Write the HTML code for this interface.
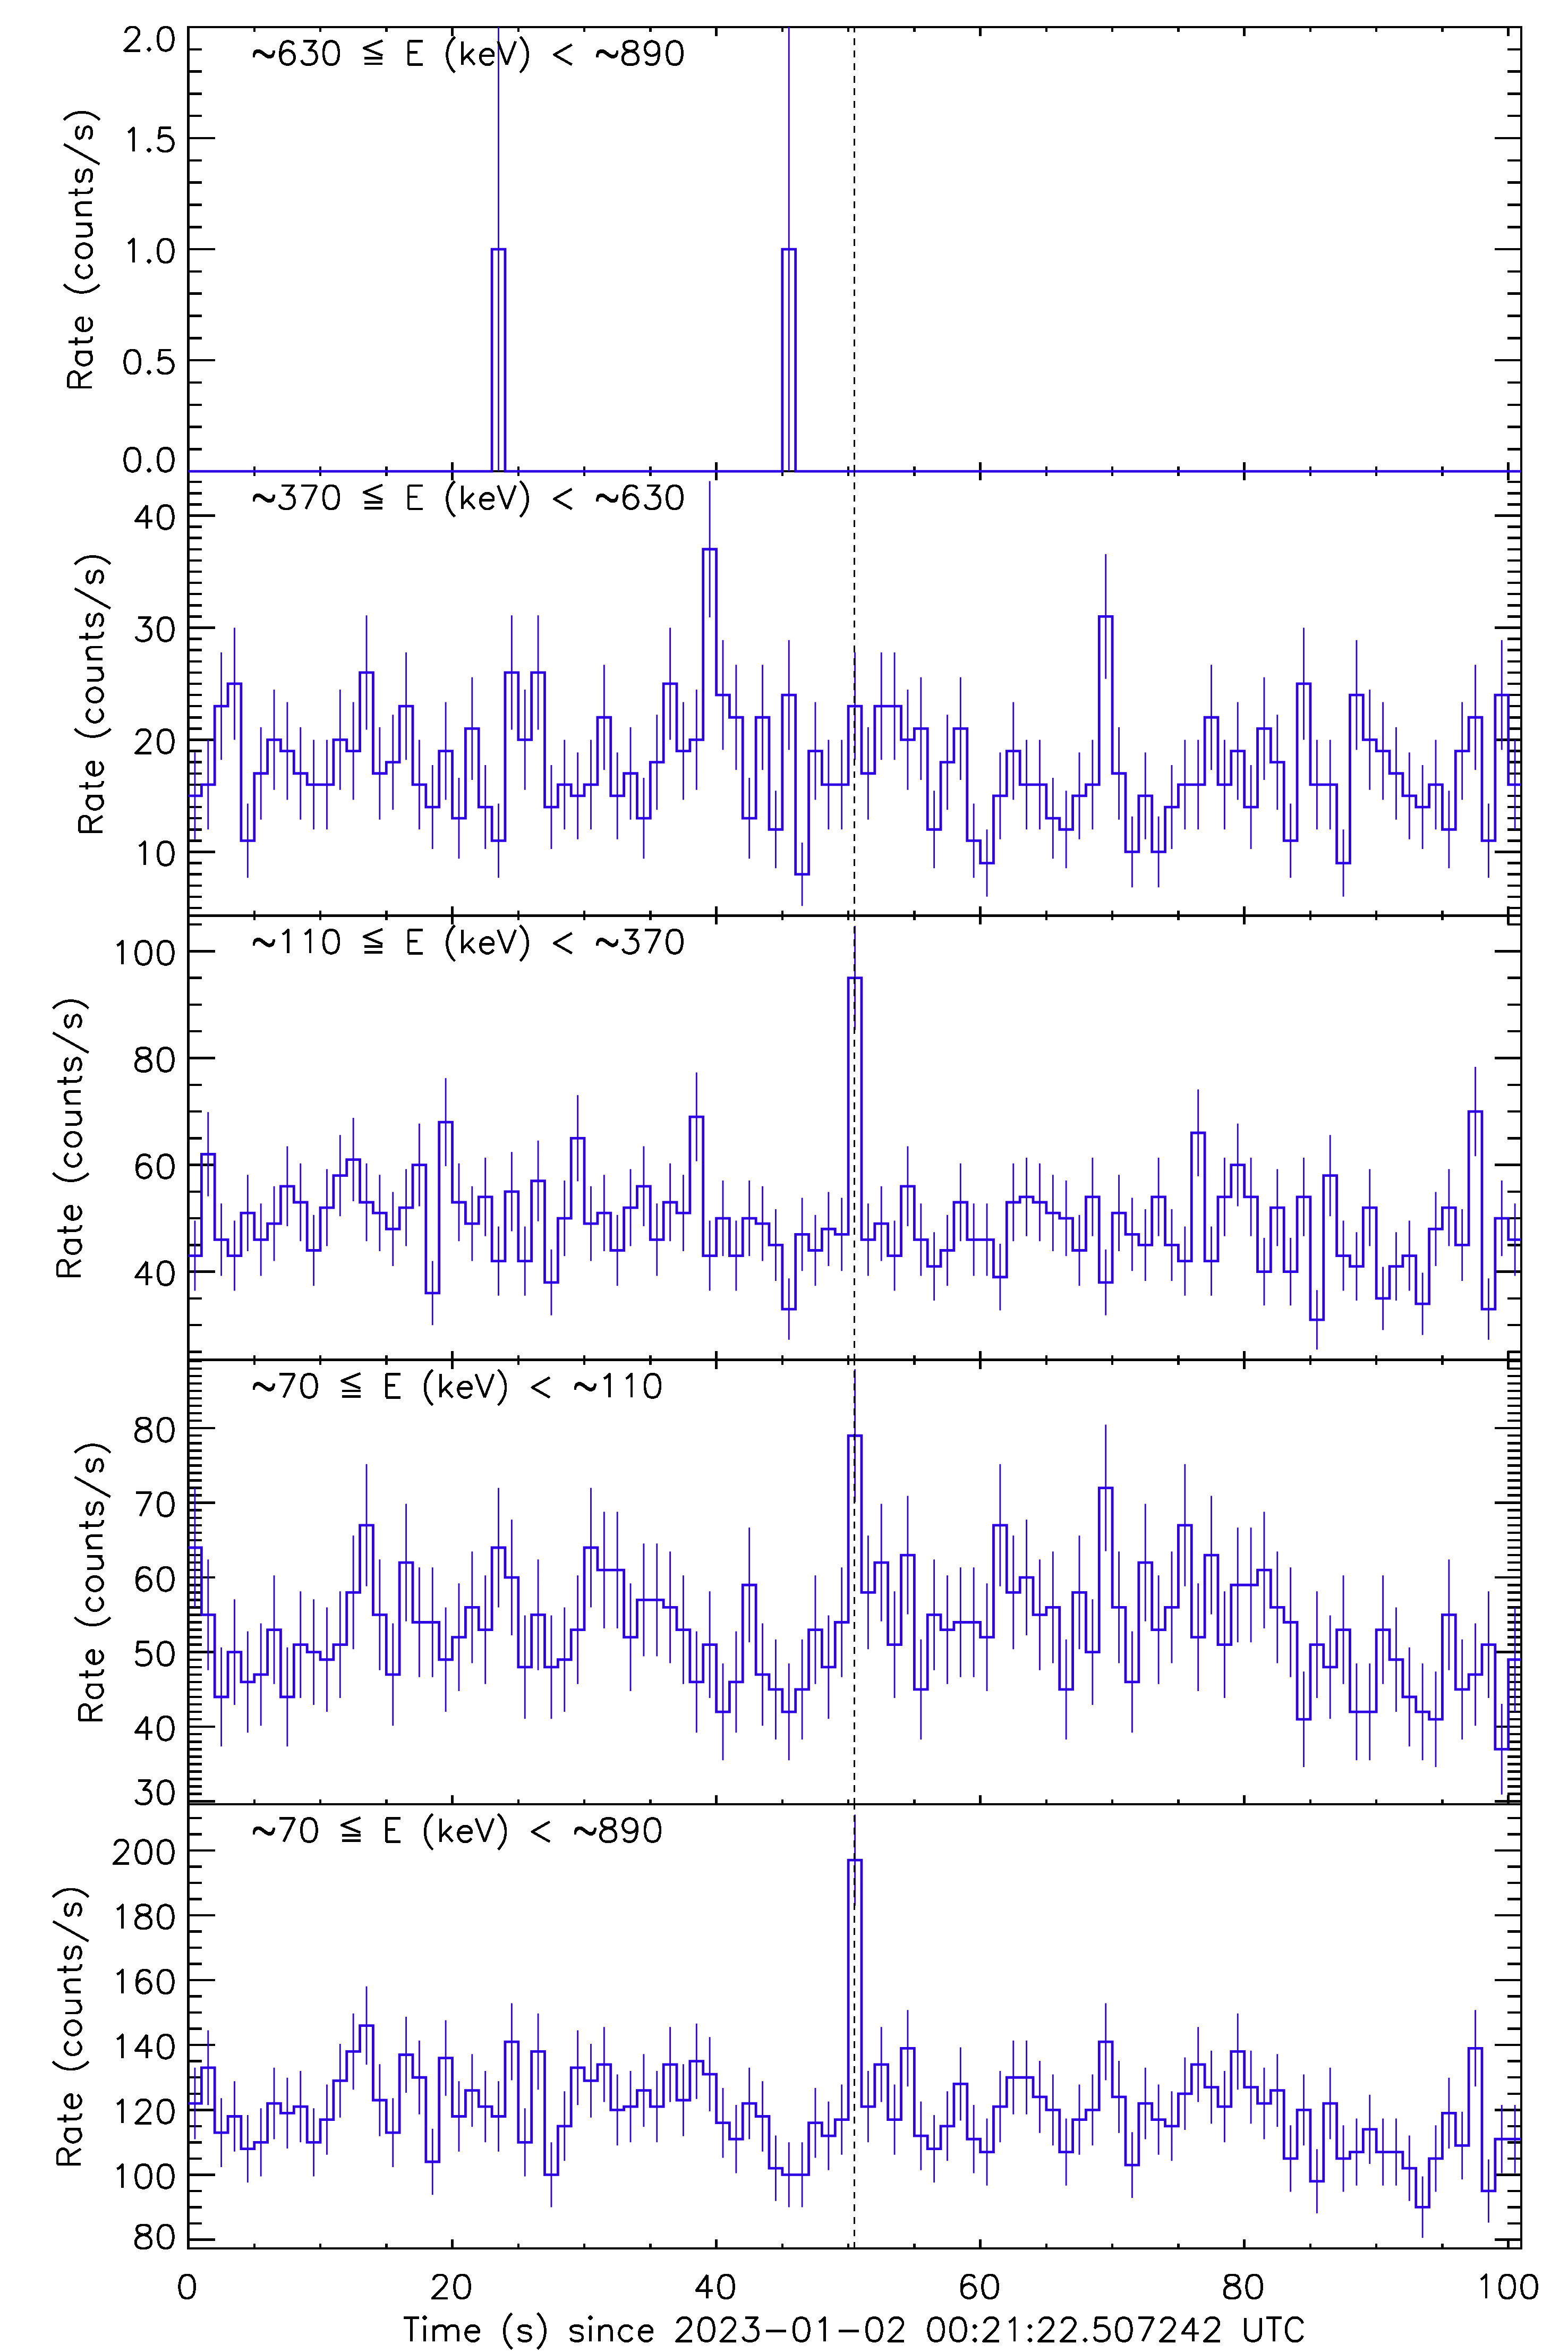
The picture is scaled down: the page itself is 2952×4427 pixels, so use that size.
<!DOCTYPE html>
<html><head><meta charset="utf-8"><title>Light curves</title>
<style>html,body{margin:0;padding:0;background:#fff;font-family:"Liberation Sans",sans-serif}svg{display:block}</style></head>
<body>
<svg width="2952" height="4427" viewBox="0 0 2952 4427">
<rect width="2952" height="4427" fill="#fff"/>
<g fill="#000"><rect x="352" y="3394" width="2514" height="4"/><rect x="352" y="4230" width="2514" height="4"/><rect x="352" y="3394" width="5" height="840"/><rect x="2862" y="3394" width="4" height="840"/><rect x="477" y="4223" width="4" height="9"/><rect x="601" y="4223" width="4" height="9"/><rect x="725" y="4223" width="5" height="9"/><rect x="849" y="4215" width="5" height="17"/><rect x="974" y="4223" width="4" height="9"/><rect x="1098" y="4223" width="4" height="9"/><rect x="1222" y="4223" width="5" height="9"/><rect x="1346" y="4215" width="5" height="17"/><rect x="1471" y="4223" width="4" height="9"/><rect x="1595" y="4223" width="4" height="9"/><rect x="1719" y="4223" width="5" height="9"/><rect x="1843" y="4215" width="5" height="17"/><rect x="1968" y="4223" width="4" height="9"/><rect x="2092" y="4223" width="4" height="9"/><rect x="2216" y="4223" width="5" height="9"/><rect x="2340" y="4215" width="5" height="17"/><rect x="2465" y="4223" width="4" height="9"/><rect x="2589" y="4223" width="4" height="9"/><rect x="2713" y="4223" width="5" height="9"/><rect x="2837" y="4215" width="5" height="17"/><rect x="354.5" y="4213" width="50.5" height="5"/><rect x="2814" y="4213" width="50" height="5"/><rect x="354.5" y="4183" width="25.5" height="4"/><rect x="2838" y="4183" width="26" height="4"/><rect x="354.5" y="4152" width="25.5" height="5"/><rect x="2838" y="4152" width="26" height="5"/><rect x="354.5" y="4122" width="25.5" height="4"/><rect x="2838" y="4122" width="26" height="4"/><rect x="354.5" y="4091" width="50.5" height="5"/><rect x="2814" y="4091" width="50" height="5"/><rect x="354.5" y="4061" width="25.5" height="4"/><rect x="2838" y="4061" width="26" height="4"/><rect x="354.5" y="4030" width="25.5" height="5"/><rect x="2838" y="4030" width="26" height="5"/><rect x="354.5" y="4000" width="25.5" height="4"/><rect x="2838" y="4000" width="26" height="4"/><rect x="354.5" y="3969" width="50.5" height="5"/><rect x="2814" y="3969" width="50" height="5"/><rect x="354.5" y="3939" width="25.5" height="4"/><rect x="2838" y="3939" width="26" height="4"/><rect x="354.5" y="3908" width="25.5" height="4"/><rect x="2838" y="3908" width="26" height="4"/><rect x="354.5" y="3877" width="25.5" height="5"/><rect x="2838" y="3877" width="26" height="5"/><rect x="354.5" y="3847" width="50.5" height="4"/><rect x="2814" y="3847" width="50" height="4"/><rect x="354.5" y="3816" width="25.5" height="5"/><rect x="2838" y="3816" width="26" height="5"/><rect x="354.5" y="3786" width="25.5" height="4"/><rect x="2838" y="3786" width="26" height="4"/><rect x="354.5" y="3755" width="25.5" height="5"/><rect x="2838" y="3755" width="26" height="5"/><rect x="354.5" y="3725" width="50.5" height="4"/><rect x="2814" y="3725" width="50" height="4"/><rect x="354.5" y="3694" width="25.5" height="5"/><rect x="2838" y="3694" width="26" height="5"/><rect x="354.5" y="3664" width="25.5" height="4"/><rect x="2838" y="3664" width="26" height="4"/><rect x="354.5" y="3633" width="25.5" height="5"/><rect x="2838" y="3633" width="26" height="5"/><rect x="354.5" y="3603" width="50.5" height="4"/><rect x="2814" y="3603" width="50" height="4"/><rect x="354.5" y="3572" width="25.5" height="5"/><rect x="2838" y="3572" width="26" height="5"/><rect x="354.5" y="3542" width="25.5" height="4"/><rect x="2838" y="3542" width="26" height="4"/><rect x="354.5" y="3511" width="25.5" height="5"/><rect x="2838" y="3511" width="26" height="5"/><rect x="354.5" y="3481" width="50.5" height="4"/><rect x="2814" y="3481" width="50" height="4"/><rect x="354.5" y="3450" width="25.5" height="5"/><rect x="2838" y="3450" width="26" height="5"/><rect x="354.5" y="3420" width="25.5" height="4"/><rect x="2838" y="3420" width="26" height="4"/></g>
<path d="M354.5 3959.09H379.35V3891.93H404.2V4014.03H429.06V3983.51H453.91V4044.56H478.76V4032.35H503.61V3959.09H528.46V3977.4H553.32V3965.2H578.17V4032.35H603.02V3989.61H627.87V3916.36H652.72V3861.41H677.58V3812.57H702.43V3952.99H727.28V4014.03H752.13V3867.51H776.98V3910.25H801.84V4068.98H826.69V3873.62H851.54V3983.51H876.39V3934.67H901.24V3965.2H926.1V3983.51H950.95V3843.09H975.8V4032.35H1000.65V3861.41H1025.5V4093.4H1050.36V4001.82H1075.21V3891.93H1100.06V3916.36H1124.91V3885.83H1149.76V3971.3H1174.62V3965.2H1199.47V3934.67H1224.32V3965.2H1249.17V3885.83H1274.02V3952.99H1298.88V3879.72H1323.73V3904.14H1348.58V3995.72H1373.43V4026.24H1398.28V3959.09H1423.14V3983.51H1447.99V4081.19H1472.84V4093.4H1497.69H1522.54V3995.72H1547.4V4020.14H1572.25V3989.61H1597.1V3501.22H1621.95V3965.2H1646.8V3885.83H1671.66V3989.61H1696.51V3855.3H1721.36V4020.14H1746.21V4044.56H1771.06V4001.82H1795.92V3922.46H1820.77V4026.24H1845.62V4050.66H1870.47V3965.2H1895.32V3910.25H1920.18H1945.03V3946.88H1969.88V3971.3H1994.73V4050.66H2019.58V3989.61H2044.44V3971.3H2069.29V3843.09H2094.14V3946.88H2118.99V4075.09H2143.84V3959.09H2168.7V3989.61H2193.55V4001.82H2218.4V3940.78H2243.25V3885.83H2268.1V3928.57H2292.96V3965.2H2317.81V3861.41H2342.66V3928.57H2367.51V3959.09H2392.36V3934.67H2417.22V4062.88H2442.07V3971.3H2466.92V4105.61H2491.77V3959.09H2516.62V4062.88H2541.48V4050.66H2566.33V4007.93H2591.18V4050.66H2616.03H2640.88V4081.19H2665.74V4154.45H2690.59V4062.88H2715.44V3977.4H2740.29V4038.45H2765.14V3855.3H2790V4123.93H2814.85V4026.24H2839.7H2864" stroke="#2d00e4" stroke-width="4.8" fill="none" stroke-linejoin="miter"/>
<path d="M366.93 3891.66V4026.52M391.78 3821.53V3962.34M416.63 3949.14V4078.93M441.48 3917.19V4049.83M466.33 3981.11V4108.01M491.19 3968.32V4096.38M516.04 3891.66V4026.52M540.89 3910.81V4044M565.74 3898.04V4032.35M590.59 3968.32V4096.38M615.45 3923.58V4055.65M640.3 3847.02V3985.69M665.15 3789.69V3933.13M690 3738.8V3886.34M714.85 3885.28V4020.69M739.71 3949.14V4078.93M764.56 3796.06V3938.97M789.41 3840.64V3979.86M814.26 4006.72V4131.24M839.11 3802.42V3944.82M863.97 3917.19V4049.83M888.82 3866.14V4003.2M913.67 3898.04V4032.35M938.52 3917.19V4049.83M963.37 3770.6V3915.59M988.23 3968.32V4096.38M1013.08 3789.69V3933.13M1037.93 4032.35V4154.45M1062.78 3936.36V4067.29M1087.63 3821.53V3962.34M1112.49 3847.02V3985.69M1137.34 3815.16V3956.5M1162.19 3904.42V4038.18M1187.04 3898.04V4032.35M1211.89 3866.14V4003.2M1236.75 3898.04V4032.35M1261.6 3815.16V3956.5M1286.45 3885.28V4020.69M1311.3 3808.79V3950.66M1336.15 3834.27V3974.02M1361.01 3929.97V4061.47M1385.86 3961.92V4090.57M1410.71 3891.66V4026.52M1435.56 3917.19V4049.83M1460.41 4019.53V4142.85M1485.27 4032.35V4154.45M1510.12 4032.35V4154.45M1534.97 3929.97V4061.47M1559.82 3955.53V4084.75M1584.67 3923.58V4055.65M1609.53 3415.53V3586.9M1634.38 3898.04V4032.35M1659.23 3815.16V3956.5M1684.08 3923.58V4055.65M1708.93 3783.33V3927.28M1733.79 3955.53V4084.75M1758.64 3981.11V4108.01M1783.49 3936.36V4067.29M1808.34 3853.39V3991.53M1833.19 3961.92V4090.57M1858.05 3987.51V4113.82M1882.9 3898.04V4032.35M1907.75 3840.64V3979.86M1932.6 3840.64V3979.86M1957.45 3878.9V4014.86M1982.31 3904.42V4038.18M2007.16 3987.51V4113.82M2032.01 3923.58V4055.65M2056.86 3904.42V4038.18M2081.71 3770.6V3915.59M2106.57 3878.9V4014.86M2131.42 4013.13V4137.04M2156.27 3891.66V4026.52M2181.12 3923.58V4055.65M2205.97 3936.36V4067.29M2230.83 3872.52V4009.03M2255.68 3815.16V3956.5M2280.53 3859.77V3997.36M2305.38 3898.04V4032.35M2330.23 3789.69V3933.13M2355.09 3859.77V3997.36M2379.94 3891.66V4026.52M2404.79 3866.14V4003.2M2429.64 4000.32V4125.43M2454.49 3904.42V4038.18M2479.35 4045.17V4166.05M2504.2 3891.66V4026.52M2529.05 4000.32V4125.43M2553.9 3987.51V4113.82M2578.75 3942.75V4073.11M2603.61 3987.51V4113.82M2628.46 3987.51V4113.82M2653.31 4019.53V4142.85M2678.16 4096.53V4212.37M2703.01 4000.32V4125.43M2727.87 3910.81V4044M2752.72 3974.72V4102.19M2777.57 3783.33V3927.28M2802.42 4064.42V4183.43M2827.27 3961.92V4090.57M2852.13 3961.92V4090.57" stroke="#2d00e4" stroke-width="2.8" fill="none"/>
<path d="M1608.5 3394V3406M1608.5 3417V3429M1608.5 3440V3453M1608.5 3464V3477M1608.5 3488V3500M1608.5 3511V3524M1608.5 3535V3548M1608.5 3558V3571M1608.5 3582V3595M1608.5 3606V3619M1608.5 3629V3642M1608.5 3653V3666M1608.5 3677V3689M1608.5 3700V3713M1608.5 3724V3737M1608.5 3748V3760M1608.5 3771V3784M1608.5 3795V3808M1608.5 3818V3831M1608.5 3842V3855M1608.5 3866V3879M1608.5 3889V3902M1608.5 3913V3926M1608.5 3937V3949M1608.5 3960V3973M1608.5 3984V3997M1608.5 4008V4020M1608.5 4031V4044M1608.5 4055V4068M1608.5 4078V4091M1608.5 4102V4115M1608.5 4126V4138M1608.5 4149V4162M1608.5 4173V4186M1608.5 4197V4209M1608.5 4220V4233" stroke="#000" stroke-width="3" fill="none"/>
<g fill="#000"><rect x="352" y="2557" width="2514" height="5"/><rect x="352" y="3394" width="2514" height="4"/><rect x="352" y="2557" width="5" height="841"/><rect x="2862" y="2557" width="4" height="841"/><rect x="477" y="3387" width="4" height="8.8"/><rect x="477" y="2559.6" width="4" height="9.4"/><rect x="601" y="3387" width="4" height="8.8"/><rect x="601" y="2559.6" width="4" height="9.4"/><rect x="725" y="3387" width="5" height="8.8"/><rect x="725" y="2559.6" width="5" height="9.4"/><rect x="849" y="3379" width="5" height="16.8"/><rect x="849" y="2559.6" width="5" height="17.4"/><rect x="974" y="3387" width="4" height="8.8"/><rect x="974" y="2559.6" width="4" height="9.4"/><rect x="1098" y="3387" width="4" height="8.8"/><rect x="1098" y="2559.6" width="4" height="9.4"/><rect x="1222" y="3387" width="5" height="8.8"/><rect x="1222" y="2559.6" width="5" height="9.4"/><rect x="1346" y="3379" width="5" height="16.8"/><rect x="1346" y="2559.6" width="5" height="17.4"/><rect x="1471" y="3387" width="4" height="8.8"/><rect x="1471" y="2559.6" width="4" height="9.4"/><rect x="1595" y="3387" width="4" height="8.8"/><rect x="1595" y="2559.6" width="4" height="9.4"/><rect x="1719" y="3387" width="5" height="8.8"/><rect x="1719" y="2559.6" width="5" height="9.4"/><rect x="1843" y="3379" width="5" height="16.8"/><rect x="1843" y="2559.6" width="5" height="17.4"/><rect x="1968" y="3387" width="4" height="8.8"/><rect x="1968" y="2559.6" width="4" height="9.4"/><rect x="2092" y="3387" width="4" height="8.8"/><rect x="2092" y="2559.6" width="4" height="9.4"/><rect x="2216" y="3387" width="5" height="8.8"/><rect x="2216" y="2559.6" width="5" height="9.4"/><rect x="2340" y="3379" width="5" height="16.8"/><rect x="2340" y="2559.6" width="5" height="17.4"/><rect x="2465" y="3387" width="4" height="8.8"/><rect x="2465" y="2559.6" width="4" height="9.4"/><rect x="2589" y="3387" width="4" height="8.8"/><rect x="2589" y="2559.6" width="4" height="9.4"/><rect x="2713" y="3387" width="5" height="8.8"/><rect x="2713" y="2559.6" width="5" height="9.4"/><rect x="2837" y="3379" width="5" height="16.8"/><rect x="2837" y="2559.6" width="5" height="17.4"/><rect x="354.5" y="3388" width="50.5" height="5"/><rect x="2814" y="3388" width="50" height="5"/><rect x="354.5" y="3374" width="25.5" height="5"/><rect x="2838" y="3374" width="26" height="5"/><rect x="354.5" y="3360" width="25.5" height="5"/><rect x="2838" y="3360" width="26" height="5"/><rect x="354.5" y="3346" width="25.5" height="5"/><rect x="2838" y="3346" width="26" height="5"/><rect x="354.5" y="3332" width="25.5" height="5"/><rect x="2838" y="3332" width="26" height="5"/><rect x="354.5" y="3318" width="25.5" height="5"/><rect x="2838" y="3318" width="26" height="5"/><rect x="354.5" y="3304" width="25.5" height="5"/><rect x="2838" y="3304" width="26" height="5"/><rect x="354.5" y="3290" width="25.5" height="5"/><rect x="2838" y="3290" width="26" height="5"/><rect x="354.5" y="3276" width="25.5" height="5"/><rect x="2838" y="3276" width="26" height="5"/><rect x="354.5" y="3262" width="25.5" height="4"/><rect x="2838" y="3262" width="26" height="4"/><rect x="354.5" y="3248" width="50.5" height="4"/><rect x="2814" y="3248" width="50" height="4"/><rect x="354.5" y="3234" width="25.5" height="4"/><rect x="2838" y="3234" width="26" height="4"/><rect x="354.5" y="3220" width="25.5" height="4"/><rect x="2838" y="3220" width="26" height="4"/><rect x="354.5" y="3206" width="25.5" height="4"/><rect x="2838" y="3206" width="26" height="4"/><rect x="354.5" y="3192" width="25.5" height="4"/><rect x="2838" y="3192" width="26" height="4"/><rect x="354.5" y="3178" width="25.5" height="4"/><rect x="2838" y="3178" width="26" height="4"/><rect x="354.5" y="3164" width="25.5" height="4"/><rect x="2838" y="3164" width="26" height="4"/><rect x="354.5" y="3150" width="25.5" height="4"/><rect x="2838" y="3150" width="26" height="4"/><rect x="354.5" y="3136" width="25.5" height="4"/><rect x="2838" y="3136" width="26" height="4"/><rect x="354.5" y="3122" width="25.5" height="4"/><rect x="2838" y="3122" width="26" height="4"/><rect x="354.5" y="3107" width="50.5" height="5"/><rect x="2814" y="3107" width="50" height="5"/><rect x="354.5" y="3093" width="25.5" height="5"/><rect x="2838" y="3093" width="26" height="5"/><rect x="354.5" y="3079" width="25.5" height="5"/><rect x="2838" y="3079" width="26" height="5"/><rect x="354.5" y="3065" width="25.5" height="5"/><rect x="2838" y="3065" width="26" height="5"/><rect x="354.5" y="3051" width="25.5" height="5"/><rect x="2838" y="3051" width="26" height="5"/><rect x="354.5" y="3037" width="25.5" height="5"/><rect x="2838" y="3037" width="26" height="5"/><rect x="354.5" y="3023" width="25.5" height="5"/><rect x="2838" y="3023" width="26" height="5"/><rect x="354.5" y="3009" width="25.5" height="5"/><rect x="2838" y="3009" width="26" height="5"/><rect x="354.5" y="2995" width="25.5" height="5"/><rect x="2838" y="2995" width="26" height="5"/><rect x="354.5" y="2981" width="25.5" height="5"/><rect x="2838" y="2981" width="26" height="5"/><rect x="354.5" y="2967" width="50.5" height="4"/><rect x="2814" y="2967" width="50" height="4"/><rect x="354.5" y="2953" width="25.5" height="4"/><rect x="2838" y="2953" width="26" height="4"/><rect x="354.5" y="2939" width="25.5" height="4"/><rect x="2838" y="2939" width="26" height="4"/><rect x="354.5" y="2925" width="25.5" height="4"/><rect x="2838" y="2925" width="26" height="4"/><rect x="354.5" y="2911" width="25.5" height="4"/><rect x="2838" y="2911" width="26" height="4"/><rect x="354.5" y="2897" width="25.5" height="4"/><rect x="2838" y="2897" width="26" height="4"/><rect x="354.5" y="2883" width="25.5" height="4"/><rect x="2838" y="2883" width="26" height="4"/><rect x="354.5" y="2869" width="25.5" height="4"/><rect x="2838" y="2869" width="26" height="4"/><rect x="354.5" y="2855" width="25.5" height="4"/><rect x="2838" y="2855" width="26" height="4"/><rect x="354.5" y="2840" width="25.5" height="5"/><rect x="2838" y="2840" width="26" height="5"/><rect x="354.5" y="2826" width="50.5" height="5"/><rect x="2814" y="2826" width="50" height="5"/><rect x="354.5" y="2812" width="25.5" height="5"/><rect x="2838" y="2812" width="26" height="5"/><rect x="354.5" y="2798" width="25.5" height="5"/><rect x="2838" y="2798" width="26" height="5"/><rect x="354.5" y="2784" width="25.5" height="5"/><rect x="2838" y="2784" width="26" height="5"/><rect x="354.5" y="2770" width="25.5" height="5"/><rect x="2838" y="2770" width="26" height="5"/><rect x="354.5" y="2756" width="25.5" height="5"/><rect x="2838" y="2756" width="26" height="5"/><rect x="354.5" y="2742" width="25.5" height="5"/><rect x="2838" y="2742" width="26" height="5"/><rect x="354.5" y="2728" width="25.5" height="5"/><rect x="2838" y="2728" width="26" height="5"/><rect x="354.5" y="2714" width="25.5" height="5"/><rect x="2838" y="2714" width="26" height="5"/><rect x="354.5" y="2700" width="25.5" height="4"/><rect x="2838" y="2700" width="26" height="4"/><rect x="354.5" y="2686" width="50.5" height="4"/><rect x="2814" y="2686" width="50" height="4"/><rect x="354.5" y="2672" width="25.5" height="4"/><rect x="2838" y="2672" width="26" height="4"/><rect x="354.5" y="2658" width="25.5" height="4"/><rect x="2838" y="2658" width="26" height="4"/><rect x="354.5" y="2644" width="25.5" height="4"/><rect x="2838" y="2644" width="26" height="4"/><rect x="354.5" y="2630" width="25.5" height="4"/><rect x="2838" y="2630" width="26" height="4"/><rect x="354.5" y="2616" width="25.5" height="4"/><rect x="2838" y="2616" width="26" height="4"/><rect x="354.5" y="2602" width="25.5" height="4"/><rect x="2838" y="2602" width="26" height="4"/><rect x="354.5" y="2588" width="25.5" height="4"/><rect x="2838" y="2588" width="26" height="4"/><rect x="354.5" y="2574" width="25.5" height="4"/><rect x="2838" y="2574" width="26" height="4"/><rect x="354.5" y="2560" width="25.5" height="4"/><rect x="2838" y="2560" width="26" height="4"/></g>
<path d="M354.5 2913H379.35V3039.45H404.2V3194H429.06V3109.7H453.91V3165.9H478.76V3151.85H503.61V3067.55H528.46V3194H553.32V3095.65H578.17V3109.7H603.02V3123.75H627.87V3095.65H652.72V2997.3H677.58V2870.85H702.43V3039.45H727.28V3151.85H752.13V2941.1H776.98V3053.5H801.84H826.69V3123.75H851.54V3081.6H876.39V3025.4H901.24V3067.55H926.1V2913H950.95V2969.2H975.8V3137.8H1000.65V3039.45H1025.5V3137.8H1050.36V3123.75H1075.21V3067.55H1100.06V2913H1124.91V2955.15H1149.76H1174.62V3081.6H1199.47V3011.35H1224.32H1249.17V3025.4H1274.02V3067.55H1298.88V3165.9H1323.73V3095.65H1348.58V3222.1H1373.43V3165.9H1398.28V2983.25H1423.14V3151.85H1447.99V3179.95H1472.84V3222.1H1497.69V3179.95H1522.54V3067.55H1547.4V3137.8H1572.25V3053.5H1597.1V2702.25H1621.95V2997.3H1646.8V2941.1H1671.66V3095.65H1696.51V2927.05H1721.36V3179.95H1746.21V3039.45H1771.06V3067.55H1795.92V3053.5H1820.77H1845.62V3081.6H1870.47V2870.85H1895.32V2997.3H1920.18V2969.2H1945.03V3039.45H1969.88V3025.4H1994.73V3179.95H2019.58V2997.3H2044.44V3109.7H2069.29V2800.6H2094.14V3025.4H2118.99V3165.9H2143.84V2941.1H2168.7V3067.55H2193.55V3025.4H2218.4V2870.85H2243.25V3081.6H2268.1V2927.05H2292.96V3095.65H2317.81V2983.25H2342.66H2367.51V2955.15H2392.36V3025.4H2417.22V3053.5H2442.07V3236.15H2466.92V3095.65H2491.77V3137.8H2516.62V3067.55H2541.48V3222.1H2566.33H2591.18V3067.55H2616.03V3123.75H2640.88V3194H2665.74V3222.1H2690.59V3236.15H2715.44V3039.45H2740.29V3179.95H2765.14V3151.85H2790V3095.65H2814.85V3292.35H2839.7V3123.75H2864" stroke="#2d00e4" stroke-width="4.8" fill="none" stroke-linejoin="miter"/>
<path d="M366.93 2800.6V3025.4M391.78 2935.25V3143.65M416.63 3100.8V3287.2M441.48 3010.35V3209.05M466.33 3070.61V3261.19M491.19 3055.53V3248.17M516.04 2965.26V3169.84M540.89 3100.8V3287.2M565.74 2995.31V3195.99M590.59 3010.35V3209.05M615.45 3025.4V3222.1M640.3 2995.31V3195.99M665.15 2890.3V3104.3M690 2755.85V2985.85M714.85 2935.25V3143.65M739.71 3055.53V3248.17M764.56 2830.47V3051.73M789.41 2950.25V3156.75M814.26 2950.25V3156.75M839.11 3025.4V3222.1M863.97 2980.28V3182.92M888.82 2920.26V3130.54M913.67 2965.26V3169.84M938.52 2800.6V3025.4M963.37 2860.37V3078.03M988.23 3040.46V3235.14M1013.08 2935.25V3143.65M1037.93 3040.46V3235.14M1062.78 3025.4V3222.1M1087.63 2965.26V3169.84M1112.49 2800.6V3025.4M1137.34 2845.42V3064.88M1162.19 2845.42V3064.88M1187.04 2980.28V3182.92M1211.89 2905.27V3117.43M1236.75 2905.27V3117.43M1261.6 2920.26V3130.54M1286.45 2965.26V3169.84M1311.3 3070.61V3261.19M1336.15 2995.31V3195.99M1361.01 3131.05V3313.15M1385.86 3070.61V3261.19M1410.71 2875.33V3091.17M1435.56 3055.53V3248.17M1460.41 3085.7V3274.2M1485.27 3131.05V3313.15M1510.12 3085.7V3274.2M1534.97 2965.26V3169.84M1559.82 3040.46V3235.14M1584.67 2950.25V3156.75M1609.53 2577.37V2827.13M1634.38 2890.3V3104.3M1659.23 2830.47V3051.73M1684.08 2995.31V3195.99M1708.93 2815.53V3038.57M1733.79 3085.7V3274.2M1758.64 2935.25V3143.65M1783.49 2965.26V3169.84M1808.34 2950.25V3156.75M1833.19 2950.25V3156.75M1858.05 2980.28V3182.92M1882.9 2755.85V2985.85M1907.75 2890.3V3104.3M1932.6 2860.37V3078.03M1957.45 2935.25V3143.65M1982.31 2920.26V3130.54M2007.16 3085.7V3274.2M2032.01 2890.3V3104.3M2056.86 3010.35V3209.05M2081.71 2681.38V2919.82M2106.57 2920.26V3130.54M2131.42 3070.61V3261.19M2156.27 2830.47V3051.73M2181.12 2965.26V3169.84M2205.97 2920.26V3130.54M2230.83 2755.85V2985.85M2255.68 2980.28V3182.92M2280.53 2815.53V3038.57M2305.38 2995.31V3195.99M2330.23 2875.33V3091.17M2355.09 2875.33V3091.17M2379.94 2845.42V3064.88M2404.79 2920.26V3130.54M2429.64 2950.25V3156.75M2454.49 3146.19V3326.11M2479.35 2995.31V3195.99M2504.2 3040.46V3235.14M2529.05 2965.26V3169.84M2553.9 3131.05V3313.15M2578.75 3131.05V3313.15M2603.61 2965.26V3169.84M2628.46 3025.4V3222.1M2653.31 3100.8V3287.2M2678.16 3131.05V3313.15M2703.01 3146.19V3326.11M2727.87 2935.25V3143.65M2752.72 3085.7V3274.2M2777.57 3055.53V3248.17M2802.42 2995.31V3195.99M2827.27 3206.89V3377.81M2852.13 3025.4V3222.1" stroke="#2d00e4" stroke-width="2.8" fill="none"/>
<path d="M1608.5 2558V2570M1608.5 2580V2593M1608.5 2604V2617M1608.5 2628V2641M1608.5 2651V2664M1608.5 2675V2688M1608.5 2699V2711M1608.5 2722V2735M1608.5 2746V2759M1608.5 2770V2782M1608.5 2793V2806M1608.5 2817V2830M1608.5 2840V2853M1608.5 2864V2877M1608.5 2888V2900M1608.5 2911V2924M1608.5 2935V2948M1608.5 2959V2971M1608.5 2982V2995M1608.5 3006V3019M1608.5 3030V3042M1608.5 3053V3066M1608.5 3077V3090M1608.5 3100V3113M1608.5 3124V3137M1608.5 3148V3160M1608.5 3171V3184M1608.5 3195V3208M1608.5 3219V3231M1608.5 3242V3255M1608.5 3266V3279M1608.5 3289V3302M1608.5 3313V3326M1608.5 3337V3350M1608.5 3360V3373M1608.5 3384V3397" stroke="#000" stroke-width="3" fill="none"/>
<g fill="#000"><rect x="352" y="1721" width="2514" height="5"/><rect x="352" y="2557" width="2514" height="5"/><rect x="352" y="1721" width="5" height="841"/><rect x="2862" y="1721" width="4" height="841"/><rect x="477" y="2551" width="4" height="8.6"/><rect x="477" y="1723.4" width="4" height="8.6"/><rect x="601" y="2551" width="4" height="8.6"/><rect x="601" y="1723.4" width="4" height="8.6"/><rect x="725" y="2551" width="5" height="8.6"/><rect x="725" y="1723.4" width="5" height="8.6"/><rect x="849" y="2543" width="5" height="16.6"/><rect x="849" y="1723.4" width="5" height="16.6"/><rect x="974" y="2551" width="4" height="8.6"/><rect x="974" y="1723.4" width="4" height="8.6"/><rect x="1098" y="2551" width="4" height="8.6"/><rect x="1098" y="1723.4" width="4" height="8.6"/><rect x="1222" y="2551" width="5" height="8.6"/><rect x="1222" y="1723.4" width="5" height="8.6"/><rect x="1346" y="2543" width="5" height="16.6"/><rect x="1346" y="1723.4" width="5" height="16.6"/><rect x="1471" y="2551" width="4" height="8.6"/><rect x="1471" y="1723.4" width="4" height="8.6"/><rect x="1595" y="2551" width="4" height="8.6"/><rect x="1595" y="1723.4" width="4" height="8.6"/><rect x="1719" y="2551" width="5" height="8.6"/><rect x="1719" y="1723.4" width="5" height="8.6"/><rect x="1843" y="2543" width="5" height="16.6"/><rect x="1843" y="1723.4" width="5" height="16.6"/><rect x="1968" y="2551" width="4" height="8.6"/><rect x="1968" y="1723.4" width="4" height="8.6"/><rect x="2092" y="2551" width="4" height="8.6"/><rect x="2092" y="1723.4" width="4" height="8.6"/><rect x="2216" y="2551" width="5" height="8.6"/><rect x="2216" y="1723.4" width="5" height="8.6"/><rect x="2340" y="2543" width="5" height="16.6"/><rect x="2340" y="1723.4" width="5" height="16.6"/><rect x="2465" y="2551" width="4" height="8.6"/><rect x="2465" y="1723.4" width="4" height="8.6"/><rect x="2589" y="2551" width="4" height="8.6"/><rect x="2589" y="1723.4" width="4" height="8.6"/><rect x="2713" y="2551" width="5" height="8.6"/><rect x="2713" y="1723.4" width="5" height="8.6"/><rect x="2837" y="2543" width="5" height="16.6"/><rect x="2837" y="1723.4" width="5" height="16.6"/><rect x="354.5" y="2542" width="25.5" height="5"/><rect x="2838" y="2542" width="26" height="5"/><rect x="354.5" y="2492" width="25.5" height="4"/><rect x="2838" y="2492" width="26" height="4"/><rect x="354.5" y="2442" width="25.5" height="4"/><rect x="2838" y="2442" width="26" height="4"/><rect x="354.5" y="2391" width="50.5" height="5"/><rect x="2814" y="2391" width="50" height="5"/><rect x="354.5" y="2341" width="25.5" height="5"/><rect x="2838" y="2341" width="26" height="5"/><rect x="354.5" y="2291" width="25.5" height="4"/><rect x="2838" y="2291" width="26" height="4"/><rect x="354.5" y="2241" width="25.5" height="4"/><rect x="2838" y="2241" width="26" height="4"/><rect x="354.5" y="2190" width="50.5" height="5"/><rect x="2814" y="2190" width="50" height="5"/><rect x="354.5" y="2140" width="25.5" height="5"/><rect x="2838" y="2140" width="26" height="5"/><rect x="354.5" y="2090" width="25.5" height="4"/><rect x="2838" y="2090" width="26" height="4"/><rect x="354.5" y="2040" width="25.5" height="4"/><rect x="2838" y="2040" width="26" height="4"/><rect x="354.5" y="1989" width="50.5" height="5"/><rect x="2814" y="1989" width="50" height="5"/><rect x="354.5" y="1939" width="25.5" height="4"/><rect x="2838" y="1939" width="26" height="4"/><rect x="354.5" y="1889" width="25.5" height="4"/><rect x="2838" y="1889" width="26" height="4"/><rect x="354.5" y="1838" width="25.5" height="5"/><rect x="2838" y="1838" width="26" height="5"/><rect x="354.5" y="1788" width="50.5" height="5"/><rect x="2814" y="1788" width="50" height="5"/><rect x="354.5" y="1738" width="25.5" height="4"/><rect x="2838" y="1738" width="26" height="4"/></g>
<path d="M354.5 2363.53H379.35V2172.49H404.2V2333.37H429.06V2363.53H453.91V2283.1H478.76V2333.37H503.61V2303.2H528.46V2232.82H553.32V2262.99H578.17V2353.48H603.02V2273.04H627.87V2212.71H652.72V2182.55H677.58V2262.99H702.43V2283.1H727.28V2313.26H752.13V2273.04H776.98V2192.6H801.84V2433.92H826.69V2112.16H851.54V2262.99H876.39V2303.2H901.24V2252.93H926.1V2373.59H950.95V2242.88H975.8V2373.59H1000.65V2222.77H1025.5V2413.81H1050.36V2293.15H1075.21V2142.33H1100.06V2303.2H1124.91V2283.1H1149.76V2353.48H1174.62V2273.04H1199.47V2232.82H1224.32V2333.37H1249.17V2262.99H1274.02V2283.1H1298.88V2102.11H1323.73V2363.53H1348.58V2293.15H1373.43V2363.53H1398.28V2293.15H1423.14V2303.2H1447.99V2343.43H1472.84V2464.09H1497.69V2323.32H1522.54V2353.48H1547.4V2313.26H1572.25V2323.32H1597.1V1840.68H1621.95V2333.37H1646.8V2303.2H1671.66V2363.53H1696.51V2232.82H1721.36V2333.37H1746.21V2383.64H1771.06V2353.48H1795.92V2262.99H1820.77V2333.37H1845.62H1870.47V2403.76H1895.32V2262.99H1920.18V2252.93H1945.03V2262.99H1969.88V2283.1H1994.73V2293.15H2019.58V2353.48H2044.44V2252.93H2069.29V2413.81H2094.14V2283.1H2118.99V2323.32H2143.84V2343.43H2168.7V2252.93H2193.55V2343.43H2218.4V2373.59H2243.25V2132.27H2268.1V2373.59H2292.96V2252.93H2317.81V2192.6H2342.66V2252.93H2367.51V2393.7H2392.36V2273.04H2417.22V2393.7H2442.07V2252.93H2466.92V2484.2H2491.77V2212.71H2516.62V2363.53H2541.48V2383.64H2566.33V2273.04H2591.18V2443.97H2616.03V2383.64H2640.88V2363.53H2665.74V2454.03H2690.59V2313.26H2715.44V2273.04H2740.29V2343.43H2765.14V2092.05H2790V2464.09H2814.85V2293.15H2839.7V2333.37H2864" stroke="#2d00e4" stroke-width="4.8" fill="none" stroke-linejoin="miter"/>
<path d="M366.93 2297.6V2429.47M391.78 2093.32V2251.66M416.63 2265.17V2401.57M441.48 2297.6V2429.47M466.33 2211.29V2354.9M491.19 2265.17V2401.57M516.04 2232.82V2373.59M540.89 2157.58V2308.06M565.74 2189.78V2336.19M590.59 2286.78V2420.18M615.45 2200.53V2345.55M640.3 2136.13V2289.29M665.15 2104.01V2261.08M690 2189.78V2336.19M714.85 2211.29V2354.9M739.71 2243.6V2382.92M764.56 2200.53V2345.55M789.41 2114.71V2270.49M814.26 2373.59V2494.25M839.11 2029.24V2195.08M863.97 2189.78V2336.19M888.82 2232.82V2373.59M913.67 2179.04V2326.82M938.52 2308.43V2438.75M963.37 2168.31V2317.44M988.23 2308.43V2438.75M1013.08 2146.85V2298.68M1037.93 2351.83V2475.79M1062.78 2222.05V2364.25M1087.63 2061.26V2223.39M1112.49 2232.82V2373.59M1137.34 2211.29V2354.9M1162.19 2286.78V2420.18M1187.04 2200.53V2345.55M1211.89 2157.58V2308.06M1236.75 2265.17V2401.57M1261.6 2189.78V2336.19M1286.45 2211.29V2354.9M1311.3 2018.58V2185.63M1336.15 2297.6V2429.47M1361.01 2222.05V2364.25M1385.86 2297.6V2429.47M1410.71 2222.05V2364.25M1435.56 2232.82V2373.59M1460.41 2275.97V2410.88M1485.27 2406.32V2521.85M1510.12 2254.38V2392.25M1534.97 2286.78V2420.18M1559.82 2243.6V2382.92M1584.67 2254.38V2392.25M1609.53 1742.67V1938.68M1634.38 2265.17V2401.57M1659.23 2232.82V2373.59M1684.08 2297.6V2429.47M1708.93 2157.58V2308.06M1733.79 2265.17V2401.57M1758.64 2319.26V2448.03M1783.49 2286.78V2420.18M1808.34 2189.78V2336.19M1833.19 2265.17V2401.57M1858.05 2265.17V2401.57M1882.9 2340.96V2466.55M1907.75 2189.78V2336.19M1932.6 2179.04V2326.82M1957.45 2189.78V2336.19M1982.31 2211.29V2354.9M2007.16 2222.05V2364.25M2032.01 2286.78V2420.18M2056.86 2179.04V2326.82M2081.71 2351.83V2475.79M2106.57 2211.29V2354.9M2131.42 2254.38V2392.25M2156.27 2275.97V2410.88M2181.12 2179.04V2326.82M2205.97 2275.97V2410.88M2230.83 2308.43V2438.75M2255.68 2050.58V2213.96M2280.53 2308.43V2438.75M2305.38 2179.04V2326.82M2330.23 2114.71V2270.49M2355.09 2179.04V2326.82M2379.94 2330.11V2457.29M2404.79 2200.53V2345.55M2429.64 2330.11V2457.29M2454.49 2179.04V2326.82M2479.35 2428.21V2540.18M2504.2 2136.13V2289.29M2529.05 2297.6V2429.47M2553.9 2319.26V2448.03M2578.75 2200.53V2345.55M2603.61 2384.49V2503.46M2628.46 2319.26V2448.03M2653.31 2297.6V2429.47M2678.16 2395.4V2512.66M2703.01 2243.6V2382.92M2727.87 2200.53V2345.55M2752.72 2275.97V2410.88M2777.57 2007.92V2176.18M2802.42 2406.32V2521.85M2827.27 2222.05V2364.25M2852.13 2265.17V2401.57" stroke="#2d00e4" stroke-width="2.8" fill="none"/>
<path d="M1608.5 1721V1733M1608.5 1744V1757M1608.5 1768V1781M1608.5 1792V1804M1608.5 1815V1828M1608.5 1839V1852M1608.5 1862V1875M1608.5 1886V1899M1608.5 1910V1922M1608.5 1933V1946M1608.5 1957V1970M1608.5 1981V1993M1608.5 2004V2017M1608.5 2028V2041M1608.5 2051V2064M1608.5 2075V2088M1608.5 2099V2112M1608.5 2122V2135M1608.5 2146V2159M1608.5 2170V2182M1608.5 2193V2206M1608.5 2217V2230M1608.5 2241V2253M1608.5 2264V2277M1608.5 2288V2301M1608.5 2311V2324M1608.5 2335V2348M1608.5 2359V2372M1608.5 2382V2395M1608.5 2406V2419M1608.5 2430V2442M1608.5 2453V2466M1608.5 2477V2490M1608.5 2501V2513M1608.5 2524V2537M1608.5 2548V2561" stroke="#000" stroke-width="3" fill="none"/>
<g fill="#000"><rect x="352" y="885" width="2514" height="4"/><rect x="352" y="1721" width="2514" height="5"/><rect x="352" y="885" width="5" height="841"/><rect x="2862" y="885" width="4" height="841"/><rect x="477" y="1714" width="4" height="9.4"/><rect x="477" y="887.2" width="4" height="8.8"/><rect x="601" y="1714" width="4" height="9.4"/><rect x="601" y="887.2" width="4" height="8.8"/><rect x="725" y="1714" width="5" height="9.4"/><rect x="725" y="887.2" width="5" height="8.8"/><rect x="849" y="1706" width="5" height="17.4"/><rect x="849" y="887.2" width="5" height="16.8"/><rect x="974" y="1714" width="4" height="9.4"/><rect x="974" y="887.2" width="4" height="8.8"/><rect x="1098" y="1714" width="4" height="9.4"/><rect x="1098" y="887.2" width="4" height="8.8"/><rect x="1222" y="1714" width="5" height="9.4"/><rect x="1222" y="887.2" width="5" height="8.8"/><rect x="1346" y="1706" width="5" height="17.4"/><rect x="1346" y="887.2" width="5" height="16.8"/><rect x="1471" y="1714" width="4" height="9.4"/><rect x="1471" y="887.2" width="4" height="8.8"/><rect x="1595" y="1714" width="4" height="9.4"/><rect x="1595" y="887.2" width="4" height="8.8"/><rect x="1719" y="1714" width="5" height="9.4"/><rect x="1719" y="887.2" width="5" height="8.8"/><rect x="1843" y="1706" width="5" height="17.4"/><rect x="1843" y="887.2" width="5" height="16.8"/><rect x="1968" y="1714" width="4" height="9.4"/><rect x="1968" y="887.2" width="4" height="8.8"/><rect x="2092" y="1714" width="4" height="9.4"/><rect x="2092" y="887.2" width="4" height="8.8"/><rect x="2216" y="1714" width="5" height="9.4"/><rect x="2216" y="887.2" width="5" height="8.8"/><rect x="2340" y="1706" width="5" height="17.4"/><rect x="2340" y="887.2" width="5" height="16.8"/><rect x="2465" y="1714" width="4" height="9.4"/><rect x="2465" y="887.2" width="4" height="8.8"/><rect x="2589" y="1714" width="4" height="9.4"/><rect x="2589" y="887.2" width="4" height="8.8"/><rect x="2713" y="1714" width="5" height="9.4"/><rect x="2713" y="887.2" width="5" height="8.8"/><rect x="2837" y="1706" width="5" height="17.4"/><rect x="2837" y="887.2" width="5" height="16.8"/><rect x="354.5" y="1707" width="25.5" height="4"/><rect x="2838" y="1707" width="26" height="4"/><rect x="354.5" y="1686" width="25.5" height="4"/><rect x="2838" y="1686" width="26" height="4"/><rect x="354.5" y="1665" width="25.5" height="4"/><rect x="2838" y="1665" width="26" height="4"/><rect x="354.5" y="1643" width="25.5" height="5"/><rect x="2838" y="1643" width="26" height="5"/><rect x="354.5" y="1622" width="25.5" height="5"/><rect x="2838" y="1622" width="26" height="5"/><rect x="354.5" y="1601" width="50.5" height="5"/><rect x="2814" y="1601" width="50" height="5"/><rect x="354.5" y="1580" width="25.5" height="5"/><rect x="2838" y="1580" width="26" height="5"/><rect x="354.5" y="1559" width="25.5" height="5"/><rect x="2838" y="1559" width="26" height="5"/><rect x="354.5" y="1538" width="25.5" height="4"/><rect x="2838" y="1538" width="26" height="4"/><rect x="354.5" y="1517" width="25.5" height="4"/><rect x="2838" y="1517" width="26" height="4"/><rect x="354.5" y="1496" width="25.5" height="4"/><rect x="2838" y="1496" width="26" height="4"/><rect x="354.5" y="1475" width="25.5" height="4"/><rect x="2838" y="1475" width="26" height="4"/><rect x="354.5" y="1454" width="25.5" height="4"/><rect x="2838" y="1454" width="26" height="4"/><rect x="354.5" y="1432" width="25.5" height="5"/><rect x="2838" y="1432" width="26" height="5"/><rect x="354.5" y="1411" width="25.5" height="5"/><rect x="2838" y="1411" width="26" height="5"/><rect x="354.5" y="1390" width="50.5" height="5"/><rect x="2814" y="1390" width="50" height="5"/><rect x="354.5" y="1369" width="25.5" height="5"/><rect x="2838" y="1369" width="26" height="5"/><rect x="354.5" y="1348" width="25.5" height="5"/><rect x="2838" y="1348" width="26" height="5"/><rect x="354.5" y="1327" width="25.5" height="4"/><rect x="2838" y="1327" width="26" height="4"/><rect x="354.5" y="1306" width="25.5" height="4"/><rect x="2838" y="1306" width="26" height="4"/><rect x="354.5" y="1285" width="25.5" height="4"/><rect x="2838" y="1285" width="26" height="4"/><rect x="354.5" y="1264" width="25.5" height="4"/><rect x="2838" y="1264" width="26" height="4"/><rect x="354.5" y="1243" width="25.5" height="4"/><rect x="2838" y="1243" width="26" height="4"/><rect x="354.5" y="1221" width="25.5" height="5"/><rect x="2838" y="1221" width="26" height="5"/><rect x="354.5" y="1200" width="25.5" height="5"/><rect x="2838" y="1200" width="26" height="5"/><rect x="354.5" y="1179" width="50.5" height="5"/><rect x="2814" y="1179" width="50" height="5"/><rect x="354.5" y="1158" width="25.5" height="5"/><rect x="2838" y="1158" width="26" height="5"/><rect x="354.5" y="1137" width="25.5" height="5"/><rect x="2838" y="1137" width="26" height="5"/><rect x="354.5" y="1116" width="25.5" height="4"/><rect x="2838" y="1116" width="26" height="4"/><rect x="354.5" y="1095" width="25.5" height="4"/><rect x="2838" y="1095" width="26" height="4"/><rect x="354.5" y="1074" width="25.5" height="4"/><rect x="2838" y="1074" width="26" height="4"/><rect x="354.5" y="1053" width="25.5" height="4"/><rect x="2838" y="1053" width="26" height="4"/><rect x="354.5" y="1032" width="25.5" height="4"/><rect x="2838" y="1032" width="26" height="4"/><rect x="354.5" y="1010" width="25.5" height="5"/><rect x="2838" y="1010" width="26" height="5"/><rect x="354.5" y="989" width="25.5" height="5"/><rect x="2838" y="989" width="26" height="5"/><rect x="354.5" y="968" width="50.5" height="5"/><rect x="2814" y="968" width="50" height="5"/><rect x="354.5" y="947" width="25.5" height="5"/><rect x="2838" y="947" width="26" height="5"/><rect x="354.5" y="926" width="25.5" height="5"/><rect x="2838" y="926" width="26" height="5"/><rect x="354.5" y="905" width="25.5" height="4"/><rect x="2838" y="905" width="26" height="4"/></g>
<path d="M354.5 1497.97H379.35V1476.87H404.2V1329.17H429.06V1286.97H453.91V1582.37H478.76V1455.77H503.61V1392.47H528.46V1413.57H553.32V1455.77H578.17V1476.87H603.02H627.87V1392.47H652.72V1413.57H677.58V1265.87H702.43V1455.77H727.28V1434.67H752.13V1329.17H776.98V1476.87H801.84V1519.07H826.69V1413.57H851.54V1540.17H876.39V1371.37H901.24V1519.07H926.1V1582.37H950.95V1265.87H975.8V1392.47H1000.65V1265.87H1025.5V1519.07H1050.36V1476.87H1075.21V1497.97H1100.06V1476.87H1124.91V1350.27H1149.76V1497.97H1174.62V1455.77H1199.47V1540.17H1224.32V1434.67H1249.17V1286.97H1274.02V1413.57H1298.88V1392.47H1323.73V1033.77H1348.58V1308.07H1373.43V1350.27H1398.28V1540.17H1423.14V1350.27H1447.99V1561.27H1472.84V1308.07H1497.69V1645.67H1522.54V1413.57H1547.4V1476.87H1572.25H1597.1V1329.17H1621.95V1455.77H1646.8V1329.17H1671.66H1696.51V1392.47H1721.36V1371.37H1746.21V1561.27H1771.06V1434.67H1795.92V1371.37H1820.77V1582.37H1845.62V1624.57H1870.47V1497.97H1895.32V1413.57H1920.18V1476.87H1945.03H1969.88V1540.17H1994.73V1561.27H2019.58V1497.97H2044.44V1476.87H2069.29V1160.37H2094.14V1455.77H2118.99V1603.47H2143.84V1497.97H2168.7V1603.47H2193.55V1519.07H2218.4V1476.87H2243.25H2268.1V1350.27H2292.96V1476.87H2317.81V1413.57H2342.66V1519.07H2367.51V1371.37H2392.36V1434.67H2417.22V1582.37H2442.07V1286.97H2466.92V1476.87H2491.77H2516.62V1624.57H2541.48V1308.07H2566.33V1392.47H2591.18V1413.57H2616.03V1455.77H2640.88V1497.97H2665.74V1519.07H2690.59V1476.87H2715.44V1561.27H2740.29V1413.57H2765.14V1350.27H2790V1582.37H2814.85V1308.07H2839.7V1476.87H2864" stroke="#2d00e4" stroke-width="4.8" fill="none" stroke-linejoin="miter"/>
<path d="M366.93 1416.25V1579.69M391.78 1392.47V1561.27M416.63 1227.98V1430.36M441.48 1181.47V1392.47M466.33 1512.39V1652.35M491.19 1368.77V1542.77M516.04 1298.11V1486.83M540.89 1321.6V1505.54M565.74 1368.77V1542.77M590.59 1392.47V1561.27M615.45 1392.47V1561.27M640.3 1298.11V1486.83M665.15 1321.6V1505.54M690 1158.28V1373.46M714.85 1368.77V1542.77M739.71 1345.15V1524.19M764.56 1227.98V1430.36M789.41 1392.47V1561.27M814.26 1440.12V1598.02M839.11 1321.6V1505.54M863.97 1464.09V1616.25M888.82 1274.68V1468.06M913.67 1440.12V1598.02M938.52 1512.39V1652.35M963.37 1158.28V1373.46M988.23 1298.11V1486.83M1013.08 1158.28V1373.46M1037.93 1440.12V1598.02M1062.78 1392.47V1561.27M1087.63 1416.25V1579.69M1112.49 1392.47V1561.27M1137.34 1251.3V1449.24M1162.19 1416.25V1579.69M1187.04 1368.77V1542.77M1211.89 1464.09V1616.25M1236.75 1345.15V1524.19M1261.6 1181.47V1392.47M1286.45 1321.6V1505.54M1311.3 1298.11V1486.83M1336.15 905.42V1162.12M1361.01 1204.7V1411.44M1385.86 1251.3V1449.24M1410.71 1464.09V1616.25M1435.56 1251.3V1449.24M1460.41 1488.18V1634.36M1485.27 1204.7V1411.44M1510.12 1585.99V1705.35M1534.97 1321.6V1505.54M1559.82 1392.47V1561.27M1584.67 1392.47V1561.27M1609.53 1227.98V1430.36M1634.38 1368.77V1542.77M1659.23 1227.98V1430.36M1684.08 1227.98V1430.36M1708.93 1298.11V1486.83M1733.79 1274.68V1468.06M1758.64 1488.18V1634.36M1783.49 1345.15V1524.19M1808.34 1274.68V1468.06M1833.19 1512.39V1652.35M1858.05 1561.27V1687.87M1882.9 1416.25V1579.69M1907.75 1321.6V1505.54M1932.6 1392.47V1561.27M1957.45 1392.47V1561.27M1982.31 1464.09V1616.25M2007.16 1488.18V1634.36M2032.01 1416.25V1579.69M2056.86 1392.47V1561.27M2081.71 1042.89V1277.85M2106.57 1368.77V1542.77M2131.42 1536.75V1670.19M2156.27 1416.25V1579.69M2181.12 1536.75V1670.19M2205.97 1440.12V1598.02M2230.83 1392.47V1561.27M2255.68 1392.47V1561.27M2280.53 1251.3V1449.24M2305.38 1392.47V1561.27M2330.23 1321.6V1505.54M2355.09 1440.12V1598.02M2379.94 1274.68V1468.06M2404.79 1345.15V1524.19M2429.64 1512.39V1652.35M2454.49 1181.47V1392.47M2479.35 1392.47V1561.27M2504.2 1392.47V1561.27M2529.05 1561.27V1687.87M2553.9 1204.7V1411.44M2578.75 1298.11V1486.83M2603.61 1321.6V1505.54M2628.46 1368.77V1542.77M2653.31 1416.25V1579.69M2678.16 1440.12V1598.02M2703.01 1392.47V1561.27M2727.87 1488.18V1634.36M2752.72 1321.6V1505.54M2777.57 1251.3V1449.24M2802.42 1512.39V1652.35M2827.27 1204.7V1411.44M2852.13 1392.47V1561.27" stroke="#2d00e4" stroke-width="2.8" fill="none"/>
<path d="M1608.5 885V897M1608.5 908V921M1608.5 932V944M1608.5 955V968M1608.5 979V992M1608.5 1003V1015M1608.5 1026V1039M1608.5 1050V1063M1608.5 1073V1086M1608.5 1097V1110M1608.5 1121V1134M1608.5 1144V1157M1608.5 1168V1181M1608.5 1192V1204M1608.5 1215V1228M1608.5 1239V1252M1608.5 1263V1275M1608.5 1286V1299M1608.5 1310V1323M1608.5 1333V1346M1608.5 1357V1370M1608.5 1381V1394M1608.5 1404V1417M1608.5 1428V1441M1608.5 1452V1464M1608.5 1475V1488M1608.5 1499V1512M1608.5 1523V1535M1608.5 1546V1559M1608.5 1570V1583M1608.5 1593V1606M1608.5 1617V1630M1608.5 1641V1654M1608.5 1664V1677M1608.5 1688V1701M1608.5 1712V1724" stroke="#000" stroke-width="3" fill="none"/>
<g fill="#000"><rect x="352" y="49" width="2514" height="4"/><rect x="352" y="885" width="2514" height="4"/><rect x="352" y="49" width="5" height="840"/><rect x="2862" y="49" width="4" height="840"/><rect x="477" y="878" width="4" height="9.2"/><rect x="477" y="51" width="4" height="9"/><rect x="601" y="878" width="4" height="9.2"/><rect x="601" y="51" width="4" height="9"/><rect x="725" y="878" width="5" height="9.2"/><rect x="725" y="51" width="5" height="9"/><rect x="849" y="870" width="5" height="17.2"/><rect x="849" y="51" width="5" height="17"/><rect x="974" y="878" width="4" height="9.2"/><rect x="974" y="51" width="4" height="9"/><rect x="1098" y="878" width="4" height="9.2"/><rect x="1098" y="51" width="4" height="9"/><rect x="1222" y="878" width="5" height="9.2"/><rect x="1222" y="51" width="5" height="9"/><rect x="1346" y="870" width="5" height="17.2"/><rect x="1346" y="51" width="5" height="17"/><rect x="1471" y="878" width="4" height="9.2"/><rect x="1471" y="51" width="4" height="9"/><rect x="1595" y="878" width="4" height="9.2"/><rect x="1595" y="51" width="4" height="9"/><rect x="1719" y="878" width="5" height="9.2"/><rect x="1719" y="51" width="5" height="9"/><rect x="1843" y="870" width="5" height="17.2"/><rect x="1843" y="51" width="5" height="17"/><rect x="1968" y="878" width="4" height="9.2"/><rect x="1968" y="51" width="4" height="9"/><rect x="2092" y="878" width="4" height="9.2"/><rect x="2092" y="51" width="4" height="9"/><rect x="2216" y="878" width="5" height="9.2"/><rect x="2216" y="51" width="5" height="9"/><rect x="2340" y="870" width="5" height="17.2"/><rect x="2340" y="51" width="5" height="17"/><rect x="2465" y="878" width="4" height="9.2"/><rect x="2465" y="51" width="4" height="9"/><rect x="2589" y="878" width="4" height="9.2"/><rect x="2589" y="51" width="4" height="9"/><rect x="2713" y="878" width="5" height="9.2"/><rect x="2713" y="51" width="5" height="9"/><rect x="2837" y="870" width="5" height="17.2"/><rect x="2837" y="51" width="5" height="17"/><rect x="354.5" y="843" width="25.5" height="5"/><rect x="2838" y="843" width="26" height="5"/><rect x="354.5" y="801" width="25.5" height="5"/><rect x="2838" y="801" width="26" height="5"/><rect x="354.5" y="760" width="25.5" height="4"/><rect x="2838" y="760" width="26" height="4"/><rect x="354.5" y="718" width="25.5" height="4"/><rect x="2838" y="718" width="26" height="4"/><rect x="354.5" y="676" width="50.5" height="4"/><rect x="2814" y="676" width="50" height="4"/><rect x="354.5" y="634" width="25.5" height="5"/><rect x="2838" y="634" width="26" height="5"/><rect x="354.5" y="592" width="25.5" height="5"/><rect x="2838" y="592" width="26" height="5"/><rect x="354.5" y="550" width="25.5" height="5"/><rect x="2838" y="550" width="26" height="5"/><rect x="354.5" y="509" width="25.5" height="4"/><rect x="2838" y="509" width="26" height="4"/><rect x="354.5" y="467" width="50.5" height="4"/><rect x="2814" y="467" width="50" height="4"/><rect x="354.5" y="425" width="25.5" height="5"/><rect x="2838" y="425" width="26" height="5"/><rect x="354.5" y="383" width="25.5" height="5"/><rect x="2838" y="383" width="26" height="5"/><rect x="354.5" y="341" width="25.5" height="5"/><rect x="2838" y="341" width="26" height="5"/><rect x="354.5" y="300" width="25.5" height="4"/><rect x="2838" y="300" width="26" height="4"/><rect x="354.5" y="258" width="50.5" height="4"/><rect x="2814" y="258" width="50" height="4"/><rect x="354.5" y="216" width="25.5" height="4"/><rect x="2838" y="216" width="26" height="4"/><rect x="354.5" y="174" width="25.5" height="5"/><rect x="2838" y="174" width="26" height="5"/><rect x="354.5" y="132" width="25.5" height="5"/><rect x="2838" y="132" width="26" height="5"/><rect x="354.5" y="91" width="25.5" height="4"/><rect x="2838" y="91" width="26" height="4"/></g>
<path d="M354.5 887.2H379.35H404.2H429.06H453.91H478.76H503.61H528.46H553.32H578.17H603.02H627.87H652.72H677.58H702.43H727.28H752.13H776.98H801.84H826.69H851.54H876.39H901.24H926.1V469.1H950.95V887.2H975.8H1000.65H1025.5H1050.36H1075.21H1100.06H1124.91H1149.76H1174.62H1199.47H1224.32H1249.17H1274.02H1298.88H1323.73H1348.58H1373.43H1398.28H1423.14H1447.99H1472.84V469.1H1497.69V887.2H1522.54H1547.4H1572.25H1597.1H1621.95H1646.8H1671.66H1696.51H1721.36H1746.21H1771.06H1795.92H1820.77H1845.62H1870.47H1895.32H1920.18H1945.03H1969.88H1994.73H2019.58H2044.44H2069.29H2094.14H2118.99H2143.84H2168.7H2193.55H2218.4H2243.25H2268.1H2292.96H2317.81H2342.66H2367.51H2392.36H2417.22H2442.07H2466.92H2491.77H2516.62H2541.48H2566.33H2591.18H2616.03H2640.88H2665.74H2690.59H2715.44H2740.29H2765.14H2790H2814.85H2839.7H2864" stroke="#2d00e4" stroke-width="4.8" fill="none" stroke-linejoin="miter"/>
<path d="M938.52 51V887.2M1485.27 51V887.2" stroke="#2d00e4" stroke-width="2.8" fill="none"/>
<path d="M1608.5 49V61M1608.5 72V85M1608.5 95V108M1608.5 119V132M1608.5 143V156M1608.5 166V179M1608.5 190V203M1608.5 214V226M1608.5 237V250M1608.5 261V274M1608.5 285V297M1608.5 308V321M1608.5 332V345M1608.5 355V368M1608.5 379V392M1608.5 403V416M1608.5 426V439M1608.5 450V463M1608.5 474V486M1608.5 497V510M1608.5 521V534M1608.5 545V557M1608.5 568V581M1608.5 592V605M1608.5 615V628M1608.5 639V652M1608.5 663V676M1608.5 686V699M1608.5 710V723M1608.5 734V746M1608.5 757V770M1608.5 781V794M1608.5 805V817M1608.5 828V841M1608.5 852V865M1608.5 875V888" stroke="#000" stroke-width="3" fill="none"/>
<path d="M477.94 3452.53 L477.94 3448.33 L480.02 3442.03 L484.17 3439.93 L488.33 3439.93 L492.49 3442.03 L500.81 3448.33 L504.96 3450.43 L509.12 3450.43 L513.28 3448.33 L515.36 3444.13 M477.94 3448.33 L480.02 3444.13 L484.17 3442.03 L488.33 3442.03 L492.49 3444.13 L500.81 3450.43 L504.96 3452.53 L509.12 3452.53 L513.28 3450.43 L515.36 3444.13 L515.36 3439.93 M554.86 3422.50 L534.07 3466.60 M525.75 3422.50 L554.86 3422.50 M579.81 3422.50 L573.57 3424.60 L569.41 3430.90 L567.33 3441.40 L567.33 3447.70 L569.41 3458.20 L573.57 3464.50 L579.81 3466.60 L583.97 3466.60 L590.20 3464.50 L594.36 3458.20 L596.44 3447.70 L596.44 3441.40 L594.36 3430.90 L590.20 3424.60 L583.97 3422.50Z M678.56 3421.24 L643.43 3435.31 L678.56 3449.38 M644.26 3454.21 L678.56 3454.21 M644.26 3464.71 L678.56 3464.71 M727.42 3422.50 L727.42 3466.60 M727.42 3422.50 L754.44 3422.50 M727.42 3443.50 L744.05 3443.50 M727.42 3466.60 L754.44 3466.60 M814.74 3414.10 L810.58 3418.30 L806.42 3424.60 L802.26 3433.00 L800.18 3443.50 L800.18 3451.90 L802.26 3462.40 L806.42 3470.80 L810.58 3477.10 L814.74 3481.30 M829.29 3422.50 L829.29 3466.60 M850.08 3437.20 L829.29 3458.20 M837.60 3449.80 L852.16 3466.60 M862.55 3449.80 L887.50 3449.80 L887.50 3445.60 L885.42 3441.40 L883.34 3439.30 L879.18 3437.20 L872.95 3437.20 L868.79 3439.30 L864.63 3443.50 L862.55 3449.80 L862.55 3454.00 L864.63 3460.30 L868.79 3464.50 L872.95 3466.60 L879.18 3466.60 L883.34 3464.50 L887.50 3460.30 M895.82 3422.50 L912.45 3466.60 M929.08 3422.50 L912.45 3466.60 M937.40 3414.10 L941.55 3418.30 L945.71 3424.60 L949.87 3433.00 L951.95 3443.50 L951.95 3451.90 L949.87 3462.40 L945.71 3470.80 L941.55 3477.10 L937.40 3481.30 M1035.11 3428.80 L1001.85 3447.70 L1035.11 3466.60 M1082.93 3452.53 L1082.93 3448.33 L1085.01 3442.03 L1089.16 3439.93 L1093.32 3439.93 L1097.48 3442.03 L1105.80 3448.33 L1109.95 3450.43 L1114.11 3450.43 L1118.27 3448.33 L1120.35 3444.13 M1082.93 3448.33 L1085.01 3444.13 L1089.16 3442.03 L1093.32 3442.03 L1097.48 3444.13 L1105.80 3450.43 L1109.95 3452.53 L1114.11 3452.53 L1118.27 3450.43 L1120.35 3444.13 L1120.35 3439.93 M1141.14 3422.50 L1134.90 3424.60 L1132.82 3428.80 L1132.82 3433.00 L1134.90 3437.20 L1139.06 3439.30 L1147.38 3441.40 L1153.61 3443.50 L1157.77 3447.70 L1159.85 3451.90 L1159.85 3458.20 L1157.77 3462.40 L1155.69 3464.50 L1149.45 3466.60 L1141.14 3466.60 L1134.90 3464.50 L1132.82 3462.40 L1130.74 3458.20 L1130.74 3451.90 L1132.82 3447.70 L1136.98 3443.50 L1143.22 3441.40 L1151.53 3439.30 L1155.69 3437.20 L1157.77 3433.00 L1157.77 3428.80 L1155.69 3424.60 L1149.45 3422.50Z M1199.35 3437.20 L1197.27 3443.50 L1193.11 3447.70 L1186.88 3449.80 L1184.80 3449.80 L1178.56 3447.70 L1174.40 3443.50 L1172.32 3437.20 L1172.32 3435.10 L1174.40 3428.80 L1178.56 3424.60 L1184.80 3422.50 L1186.88 3422.50 L1193.11 3424.60 L1197.27 3428.80 L1199.35 3437.20 L1199.35 3447.70 L1197.27 3458.20 L1193.11 3464.50 L1186.88 3466.60 L1182.72 3466.60 L1176.48 3464.50 L1174.40 3460.30 M1226.38 3422.50 L1220.14 3424.60 L1215.98 3430.90 L1213.90 3441.40 L1213.90 3447.70 L1215.98 3458.20 L1220.14 3464.50 L1226.38 3466.60 L1230.54 3466.60 L1236.77 3464.50 L1240.93 3458.20 L1243.01 3447.70 L1243.01 3441.40 L1240.93 3430.90 L1236.77 3424.60 L1230.54 3422.50Z M265.97 4187.90 L259.74 4190.00 L257.66 4194.20 L257.66 4198.40 L259.74 4202.60 L263.89 4204.70 L272.21 4206.80 L278.45 4208.90 L282.60 4213.10 L284.68 4217.30 L284.68 4223.60 L282.60 4227.80 L280.52 4229.90 L274.29 4232.00 L265.97 4232.00 L259.74 4229.90 L257.66 4227.80 L255.58 4223.60 L255.58 4217.30 L257.66 4213.10 L261.81 4208.90 L268.05 4206.80 L276.37 4204.70 L280.52 4202.60 L282.60 4198.40 L282.60 4194.20 L280.52 4190.00 L274.29 4187.90Z M309.63 4187.90 L303.39 4190.00 L299.24 4196.30 L297.16 4206.80 L297.16 4213.10 L299.24 4223.60 L303.39 4229.90 L309.63 4232.00 L313.79 4232.00 L320.03 4229.90 L324.18 4223.60 L326.26 4213.10 L326.26 4206.80 L324.18 4196.30 L320.03 4190.00 L313.79 4187.90Z M220.23 4082.60 L224.39 4080.50 L230.63 4074.20 L230.63 4118.30 M268.05 4074.20 L261.81 4076.30 L257.66 4082.60 L255.58 4093.10 L255.58 4099.40 L257.66 4109.90 L261.81 4116.20 L268.05 4118.30 L272.21 4118.30 L278.45 4116.20 L282.60 4109.90 L284.68 4099.40 L284.68 4093.10 L282.60 4082.60 L278.45 4076.30 L272.21 4074.20Z M309.63 4074.20 L303.39 4076.30 L299.24 4082.60 L297.16 4093.10 L297.16 4099.40 L299.24 4109.90 L303.39 4116.20 L309.63 4118.30 L313.79 4118.30 L320.03 4116.20 L324.18 4109.90 L326.26 4099.40 L326.26 4093.10 L324.18 4082.60 L320.03 4076.30 L313.79 4074.20Z M220.23 3960.50 L224.39 3958.40 L230.63 3952.10 L230.63 3996.20 M257.66 3962.60 L257.66 3960.50 L259.74 3956.30 L261.81 3954.20 L265.97 3952.10 L274.29 3952.10 L278.45 3954.20 L280.52 3956.30 L282.60 3960.50 L282.60 3964.70 L280.52 3968.90 L276.37 3975.20 L255.58 3996.20 L284.68 3996.20 M309.63 3952.10 L303.39 3954.20 L299.24 3960.50 L297.16 3971.00 L297.16 3977.30 L299.24 3987.80 L303.39 3994.10 L309.63 3996.20 L313.79 3996.20 L320.03 3994.10 L324.18 3987.80 L326.26 3977.30 L326.26 3971.00 L324.18 3960.50 L320.03 3954.20 L313.79 3952.10Z M220.23 3838.40 L224.39 3836.30 L230.63 3830.00 L230.63 3874.10 M276.37 3830.00 L255.58 3859.40 L286.76 3859.40 M276.37 3830.00 L276.37 3874.10 M309.63 3830.00 L303.39 3832.10 L299.24 3838.40 L297.16 3848.90 L297.16 3855.20 L299.24 3865.70 L303.39 3872.00 L309.63 3874.10 L313.79 3874.10 L320.03 3872.00 L324.18 3865.70 L326.26 3855.20 L326.26 3848.90 L324.18 3838.40 L320.03 3832.10 L313.79 3830.00Z M220.23 3716.30 L224.39 3714.20 L230.63 3707.90 L230.63 3752.00 M282.60 3714.20 L280.52 3710.00 L274.29 3707.90 L270.13 3707.90 L263.89 3710.00 L259.74 3716.30 L257.66 3726.80 L257.66 3737.30 L259.74 3745.70 L263.89 3749.90 L270.13 3752.00 L272.21 3752.00 L278.45 3749.90 L282.60 3745.70 L284.68 3739.40 L284.68 3737.30 L282.60 3731.00 L278.45 3726.80 L272.21 3724.70 L270.13 3724.70 L263.89 3726.80 L259.74 3731.00 L257.66 3737.30 M309.63 3707.90 L303.39 3710.00 L299.24 3716.30 L297.16 3726.80 L297.16 3733.10 L299.24 3743.60 L303.39 3749.90 L309.63 3752.00 L313.79 3752.00 L320.03 3749.90 L324.18 3743.60 L326.26 3733.10 L326.26 3726.80 L324.18 3716.30 L320.03 3710.00 L313.79 3707.90Z M220.23 3594.20 L224.39 3592.10 L230.63 3585.80 L230.63 3629.90 M265.97 3585.80 L259.74 3587.90 L257.66 3592.10 L257.66 3596.30 L259.74 3600.50 L263.89 3602.60 L272.21 3604.70 L278.45 3606.80 L282.60 3611.00 L284.68 3615.20 L284.68 3621.50 L282.60 3625.70 L280.52 3627.80 L274.29 3629.90 L265.97 3629.90 L259.74 3627.80 L257.66 3625.70 L255.58 3621.50 L255.58 3615.20 L257.66 3611.00 L261.81 3606.80 L268.05 3604.70 L276.37 3602.60 L280.52 3600.50 L282.60 3596.30 L282.60 3592.10 L280.52 3587.90 L274.29 3585.80Z M309.63 3585.80 L303.39 3587.90 L299.24 3594.20 L297.16 3604.70 L297.16 3611.00 L299.24 3621.50 L303.39 3627.80 L309.63 3629.90 L313.79 3629.90 L320.03 3627.80 L324.18 3621.50 L326.26 3611.00 L326.26 3604.70 L324.18 3594.20 L320.03 3587.90 L313.79 3585.80Z M216.08 3474.20 L216.08 3472.10 L218.15 3467.90 L220.23 3465.80 L224.39 3463.70 L232.71 3463.70 L236.87 3465.80 L238.94 3467.90 L241.02 3472.10 L241.02 3476.30 L238.94 3480.50 L234.79 3486.80 L214.00 3507.80 L243.10 3507.80 M268.05 3463.70 L261.81 3465.80 L257.66 3472.10 L255.58 3482.60 L255.58 3488.90 L257.66 3499.40 L261.81 3505.70 L268.05 3507.80 L272.21 3507.80 L278.45 3505.70 L282.60 3499.40 L284.68 3488.90 L284.68 3482.60 L282.60 3472.10 L278.45 3465.80 L272.21 3463.70Z M309.63 3463.70 L303.39 3465.80 L299.24 3472.10 L297.16 3482.60 L297.16 3488.90 L299.24 3499.40 L303.39 3505.70 L309.63 3507.80 L313.79 3507.80 L320.03 3505.70 L324.18 3499.40 L326.26 3488.90 L326.26 3482.60 L324.18 3472.10 L320.03 3465.80 L313.79 3463.70Z M108.00 4073.74 L152.10 4073.74 M108.00 4073.74 L108.00 4055.02 L110.10 4048.79 L112.20 4046.71 L116.40 4044.63 L120.60 4044.63 L124.80 4046.71 L126.90 4048.79 L129.00 4055.02 L129.00 4073.74 M129.00 4059.18 L152.10 4044.63 M122.70 4007.21 L152.10 4007.21 M129.00 4007.21 L124.80 4011.37 L122.70 4015.52 L122.70 4021.76 L124.80 4025.92 L129.00 4030.08 L135.30 4032.16 L139.50 4032.16 L145.80 4030.08 L150.00 4025.92 L152.10 4021.76 L152.10 4015.52 L150.00 4011.37 L145.80 4007.21 M108.00 3988.50 L143.70 3988.50 L150.00 3986.42 L152.10 3982.26 L152.10 3978.10 M122.70 3994.73 L122.70 3980.18 M135.30 3967.71 L135.30 3942.76 L131.10 3942.76 L126.90 3944.84 L124.80 3946.92 L122.70 3951.07 L122.70 3957.31 L124.80 3961.47 L129.00 3965.63 L135.30 3967.71 L139.50 3967.71 L145.80 3965.63 L150.00 3961.47 L152.10 3957.31 L152.10 3951.07 L150.00 3946.92 L145.80 3942.76 M99.60 3880.39 L103.80 3884.55 L110.10 3888.70 L118.50 3892.86 L129.00 3894.94 L137.40 3894.94 L147.90 3892.86 L156.30 3888.70 L162.60 3884.55 L166.80 3880.39 M129.00 3842.97 L124.80 3847.12 L122.70 3851.28 L122.70 3857.52 L124.80 3861.68 L129.00 3865.84 L135.30 3867.91 L139.50 3867.91 L145.80 3865.84 L150.00 3861.68 L152.10 3857.52 L152.10 3851.28 L150.00 3847.12 L145.80 3842.97 M122.70 3820.10 L124.80 3824.26 L129.00 3828.41 L135.30 3830.49 L139.50 3830.49 L145.80 3828.41 L150.00 3824.26 L152.10 3820.10 L152.10 3813.86 L150.00 3809.70 L145.80 3805.54 L139.50 3803.47 L135.30 3803.47 L129.00 3805.54 L124.80 3809.70 L122.70 3813.86Z M122.70 3788.91 L143.70 3788.91 L150.00 3786.83 L152.10 3782.68 L152.10 3776.44 L150.00 3772.28 L143.70 3766.04 M122.70 3766.04 L152.10 3766.04 M122.70 3749.41 L152.10 3749.41 M131.10 3749.41 L124.80 3743.17 L122.70 3739.02 L122.70 3732.78 L124.80 3728.62 L131.10 3726.54 L152.10 3726.54 M108.00 3707.83 L143.70 3707.83 L150.00 3705.75 L152.10 3701.59 L152.10 3697.44 M122.70 3714.07 L122.70 3699.52 M129.00 3664.17 L124.80 3666.25 L122.70 3672.49 L122.70 3678.73 L124.80 3684.96 L129.00 3687.04 L133.20 3684.96 L135.30 3680.80 L137.40 3670.41 L139.50 3666.25 L143.70 3664.17 L145.80 3664.17 L150.00 3666.25 L152.10 3672.49 L152.10 3678.73 L150.00 3684.96 L145.80 3687.04 M99.60 3616.36 L166.80 3653.78 M129.00 3583.09 L124.80 3585.17 L122.70 3591.41 L122.70 3597.64 L124.80 3603.88 L129.00 3605.96 L133.20 3603.88 L135.30 3599.72 L137.40 3589.33 L139.50 3585.17 L143.70 3583.09 L145.80 3583.09 L150.00 3585.17 L152.10 3591.41 L152.10 3597.64 L150.00 3603.88 L145.80 3605.96 M99.60 3570.62 L103.80 3566.46 L110.10 3562.30 L118.50 3558.14 L129.00 3556.06 L137.40 3556.06 L147.90 3558.14 L156.30 3562.30 L162.60 3566.46 L166.80 3570.62 M477.94 2616.33 L477.94 2612.13 L480.02 2605.83 L484.17 2603.73 L488.33 2603.73 L492.49 2605.83 L500.81 2612.13 L504.96 2614.23 L509.12 2614.23 L513.28 2612.13 L515.36 2607.93 M477.94 2612.13 L480.02 2607.93 L484.17 2605.83 L488.33 2605.83 L492.49 2607.93 L500.81 2614.23 L504.96 2616.33 L509.12 2616.33 L513.28 2614.23 L515.36 2607.93 L515.36 2603.73 M554.86 2586.30 L534.07 2630.40 M525.75 2586.30 L554.86 2586.30 M579.81 2586.30 L573.57 2588.40 L569.41 2594.70 L567.33 2605.20 L567.33 2611.50 L569.41 2622.00 L573.57 2628.30 L579.81 2630.40 L583.97 2630.40 L590.20 2628.30 L594.36 2622.00 L596.44 2611.50 L596.44 2605.20 L594.36 2594.70 L590.20 2588.40 L583.97 2586.30Z M678.56 2585.04 L643.43 2599.11 L678.56 2613.18 M644.26 2618.01 L678.56 2618.01 M644.26 2628.51 L678.56 2628.51 M727.42 2586.30 L727.42 2630.40 M727.42 2586.30 L754.44 2586.30 M727.42 2607.30 L744.05 2607.30 M727.42 2630.40 L754.44 2630.40 M814.74 2577.90 L810.58 2582.10 L806.42 2588.40 L802.26 2596.80 L800.18 2607.30 L800.18 2615.70 L802.26 2626.20 L806.42 2634.60 L810.58 2640.90 L814.74 2645.10 M829.29 2586.30 L829.29 2630.40 M850.08 2601.00 L829.29 2622.00 M837.60 2613.60 L852.16 2630.40 M862.55 2613.60 L887.50 2613.60 L887.50 2609.40 L885.42 2605.20 L883.34 2603.10 L879.18 2601.00 L872.95 2601.00 L868.79 2603.10 L864.63 2607.30 L862.55 2613.60 L862.55 2617.80 L864.63 2624.10 L868.79 2628.30 L872.95 2630.40 L879.18 2630.40 L883.34 2628.30 L887.50 2624.10 M895.82 2586.30 L912.45 2630.40 M929.08 2586.30 L912.45 2630.40 M937.40 2577.90 L941.55 2582.10 L945.71 2588.40 L949.87 2596.80 L951.95 2607.30 L951.95 2615.70 L949.87 2626.20 L945.71 2634.60 L941.55 2640.90 L937.40 2645.10 M1035.11 2592.60 L1001.85 2611.50 L1035.11 2630.40 M1082.93 2616.33 L1082.93 2612.13 L1085.01 2605.83 L1089.16 2603.73 L1093.32 2603.73 L1097.48 2605.83 L1105.80 2612.13 L1109.95 2614.23 L1114.11 2614.23 L1118.27 2612.13 L1120.35 2607.93 M1082.93 2612.13 L1085.01 2607.93 L1089.16 2605.83 L1093.32 2605.83 L1097.48 2607.93 L1105.80 2614.23 L1109.95 2616.33 L1114.11 2616.33 L1118.27 2614.23 L1120.35 2607.93 L1120.35 2603.73 M1136.98 2594.70 L1141.14 2592.60 L1147.38 2586.30 L1147.38 2630.40 M1178.56 2594.70 L1182.72 2592.60 L1188.96 2586.30 L1188.96 2630.40 M1226.38 2586.30 L1220.14 2588.40 L1215.98 2594.70 L1213.90 2605.20 L1213.90 2611.50 L1215.98 2622.00 L1220.14 2628.30 L1226.38 2630.40 L1230.54 2630.40 L1236.77 2628.30 L1240.93 2622.00 L1243.01 2611.50 L1243.01 2605.20 L1240.93 2594.70 L1236.77 2588.40 L1230.54 2586.30Z M259.74 3351.70 L282.60 3351.70 L270.13 3368.50 L276.37 3368.50 L280.52 3370.60 L282.60 3372.70 L284.68 3379.00 L284.68 3383.20 L282.60 3389.50 L278.45 3393.70 L272.21 3395.80 L265.97 3395.80 L259.74 3393.70 L257.66 3391.60 L255.58 3387.40 M309.63 3351.70 L303.39 3353.80 L299.24 3360.10 L297.16 3370.60 L297.16 3376.90 L299.24 3387.40 L303.39 3393.70 L309.63 3395.80 L313.79 3395.80 L320.03 3393.70 L324.18 3387.40 L326.26 3376.90 L326.26 3370.60 L324.18 3360.10 L320.03 3353.80 L313.79 3351.70Z M276.37 3231.00 L255.58 3260.40 L286.76 3260.40 M276.37 3231.00 L276.37 3275.10 M309.63 3231.00 L303.39 3233.10 L299.24 3239.40 L297.16 3249.90 L297.16 3256.20 L299.24 3266.70 L303.39 3273.00 L309.63 3275.10 L313.79 3275.10 L320.03 3273.00 L324.18 3266.70 L326.26 3256.20 L326.26 3249.90 L324.18 3239.40 L320.03 3233.10 L313.79 3231.00Z M280.52 3090.50 L259.74 3090.50 L257.66 3109.40 L259.74 3107.30 L265.97 3105.20 L272.21 3105.20 L278.45 3107.30 L282.60 3111.50 L284.68 3117.80 L284.68 3122.00 L282.60 3128.30 L278.45 3132.50 L272.21 3134.60 L265.97 3134.60 L259.74 3132.50 L257.66 3130.40 L255.58 3126.20 M309.63 3090.50 L303.39 3092.60 L299.24 3098.90 L297.16 3109.40 L297.16 3115.70 L299.24 3126.20 L303.39 3132.50 L309.63 3134.60 L313.79 3134.60 L320.03 3132.50 L324.18 3126.20 L326.26 3115.70 L326.26 3109.40 L324.18 3098.90 L320.03 3092.60 L313.79 3090.50Z M282.60 2956.30 L280.52 2952.10 L274.29 2950.00 L270.13 2950.00 L263.89 2952.10 L259.74 2958.40 L257.66 2968.90 L257.66 2979.40 L259.74 2987.80 L263.89 2992.00 L270.13 2994.10 L272.21 2994.10 L278.45 2992.00 L282.60 2987.80 L284.68 2981.50 L284.68 2979.40 L282.60 2973.10 L278.45 2968.90 L272.21 2966.80 L270.13 2966.80 L263.89 2968.90 L259.74 2973.10 L257.66 2979.40 M309.63 2950.00 L303.39 2952.10 L299.24 2958.40 L297.16 2968.90 L297.16 2975.20 L299.24 2985.70 L303.39 2992.00 L309.63 2994.10 L313.79 2994.10 L320.03 2992.00 L324.18 2985.70 L326.26 2975.20 L326.26 2968.90 L324.18 2958.40 L320.03 2952.10 L313.79 2950.00Z M284.68 2809.50 L263.89 2853.60 M255.58 2809.50 L284.68 2809.50 M309.63 2809.50 L303.39 2811.60 L299.24 2817.90 L297.16 2828.40 L297.16 2834.70 L299.24 2845.20 L303.39 2851.50 L309.63 2853.60 L313.79 2853.60 L320.03 2851.50 L324.18 2845.20 L326.26 2834.70 L326.26 2828.40 L324.18 2817.90 L320.03 2811.60 L313.79 2809.50Z M265.97 2669.00 L259.74 2671.10 L257.66 2675.30 L257.66 2679.50 L259.74 2683.70 L263.89 2685.80 L272.21 2687.90 L278.45 2690.00 L282.60 2694.20 L284.68 2698.40 L284.68 2704.70 L282.60 2708.90 L280.52 2711.00 L274.29 2713.10 L265.97 2713.10 L259.74 2711.00 L257.66 2708.90 L255.58 2704.70 L255.58 2698.40 L257.66 2694.20 L261.81 2690.00 L268.05 2687.90 L276.37 2685.80 L280.52 2683.70 L282.60 2679.50 L282.60 2675.30 L280.52 2671.10 L274.29 2669.00Z M309.63 2669.00 L303.39 2671.10 L299.24 2677.40 L297.16 2687.90 L297.16 2694.20 L299.24 2704.70 L303.39 2711.00 L309.63 2713.10 L313.79 2713.10 L320.03 2711.00 L324.18 2704.70 L326.26 2694.20 L326.26 2687.90 L324.18 2677.40 L320.03 2671.10 L313.79 2669.00Z M149.10 3237.54 L193.20 3237.54 M149.10 3237.54 L149.10 3218.82 L151.20 3212.59 L153.30 3210.51 L157.50 3208.43 L161.70 3208.43 L165.90 3210.51 L168.00 3212.59 L170.10 3218.82 L170.10 3237.54 M170.10 3222.98 L193.20 3208.43 M163.80 3171.01 L193.20 3171.01 M170.10 3171.01 L165.90 3175.17 L163.80 3179.32 L163.80 3185.56 L165.90 3189.72 L170.10 3193.88 L176.40 3195.96 L180.60 3195.96 L186.90 3193.88 L191.10 3189.72 L193.20 3185.56 L193.20 3179.32 L191.10 3175.17 L186.90 3171.01 M149.10 3152.30 L184.80 3152.30 L191.10 3150.22 L193.20 3146.06 L193.20 3141.90 M163.80 3158.53 L163.80 3143.98 M176.40 3131.51 L176.40 3106.56 L172.20 3106.56 L168.00 3108.64 L165.90 3110.72 L163.80 3114.87 L163.80 3121.11 L165.90 3125.27 L170.10 3129.43 L176.40 3131.51 L180.60 3131.51 L186.90 3129.43 L191.10 3125.27 L193.20 3121.11 L193.20 3114.87 L191.10 3110.72 L186.90 3106.56 M140.70 3044.19 L144.90 3048.35 L151.20 3052.50 L159.60 3056.66 L170.10 3058.74 L178.50 3058.74 L189.00 3056.66 L197.40 3052.50 L203.70 3048.35 L207.90 3044.19 M170.10 3006.77 L165.90 3010.92 L163.80 3015.08 L163.80 3021.32 L165.90 3025.48 L170.10 3029.64 L176.40 3031.71 L180.60 3031.71 L186.90 3029.64 L191.10 3025.48 L193.20 3021.32 L193.20 3015.08 L191.10 3010.92 L186.90 3006.77 M163.80 2983.90 L165.90 2988.06 L170.10 2992.21 L176.40 2994.29 L180.60 2994.29 L186.90 2992.21 L191.10 2988.06 L193.20 2983.90 L193.20 2977.66 L191.10 2973.50 L186.90 2969.34 L180.60 2967.27 L176.40 2967.27 L170.10 2969.34 L165.90 2973.50 L163.80 2977.66Z M163.80 2952.71 L184.80 2952.71 L191.10 2950.63 L193.20 2946.48 L193.20 2940.24 L191.10 2936.08 L184.80 2929.84 M163.80 2929.84 L193.20 2929.84 M163.80 2913.21 L193.20 2913.21 M172.20 2913.21 L165.90 2906.97 L163.80 2902.82 L163.80 2896.58 L165.90 2892.42 L172.20 2890.34 L193.20 2890.34 M149.10 2871.63 L184.80 2871.63 L191.10 2869.55 L193.20 2865.39 L193.20 2861.24 M163.80 2877.87 L163.80 2863.32 M170.10 2827.97 L165.90 2830.05 L163.80 2836.29 L163.80 2842.53 L165.90 2848.76 L170.10 2850.84 L174.30 2848.76 L176.40 2844.60 L178.50 2834.21 L180.60 2830.05 L184.80 2827.97 L186.90 2827.97 L191.10 2830.05 L193.20 2836.29 L193.20 2842.53 L191.10 2848.76 L186.90 2850.84 M140.70 2780.16 L207.90 2817.58 M170.10 2746.89 L165.90 2748.97 L163.80 2755.21 L163.80 2761.44 L165.90 2767.68 L170.10 2769.76 L174.30 2767.68 L176.40 2763.52 L178.50 2753.13 L180.60 2748.97 L184.80 2746.89 L186.90 2746.89 L191.10 2748.97 L193.20 2755.21 L193.20 2761.44 L191.10 2767.68 L186.90 2769.76 M140.70 2734.42 L144.90 2730.26 L151.20 2726.10 L159.60 2721.94 L170.10 2719.86 L178.50 2719.86 L189.00 2721.94 L197.40 2726.10 L203.70 2730.26 L207.90 2734.42 M477.94 1780.13 L477.94 1775.93 L480.02 1769.63 L484.17 1767.53 L488.33 1767.53 L492.49 1769.63 L500.81 1775.93 L504.96 1778.03 L509.12 1778.03 L513.28 1775.93 L515.36 1771.73 M477.94 1775.93 L480.02 1771.73 L484.17 1769.63 L488.33 1769.63 L492.49 1771.73 L500.81 1778.03 L504.96 1780.13 L509.12 1780.13 L513.28 1778.03 L515.36 1771.73 L515.36 1767.53 M531.99 1758.50 L536.15 1756.40 L542.39 1750.10 L542.39 1794.20 M573.57 1758.50 L577.73 1756.40 L583.97 1750.10 L583.97 1794.20 M621.39 1750.10 L615.15 1752.20 L610.99 1758.50 L608.91 1769.00 L608.91 1775.30 L610.99 1785.80 L615.15 1792.10 L621.39 1794.20 L625.55 1794.20 L631.78 1792.10 L635.94 1785.80 L638.02 1775.30 L638.02 1769.00 L635.94 1758.50 L631.78 1752.20 L625.55 1750.10Z M720.14 1748.84 L685.01 1762.91 L720.14 1776.98 M685.84 1781.81 L720.14 1781.81 M685.84 1792.31 L720.14 1792.31 M769.00 1750.10 L769.00 1794.20 M769.00 1750.10 L796.02 1750.10 M769.00 1771.10 L785.63 1771.10 M769.00 1794.20 L796.02 1794.20 M856.32 1741.70 L852.16 1745.90 L848.00 1752.20 L843.84 1760.60 L841.76 1771.10 L841.76 1779.50 L843.84 1790.00 L848.00 1798.40 L852.16 1804.70 L856.32 1808.90 M870.87 1750.10 L870.87 1794.20 M891.66 1764.80 L870.87 1785.80 M879.18 1777.40 L893.74 1794.20 M904.13 1777.40 L929.08 1777.40 L929.08 1773.20 L927.00 1769.00 L924.92 1766.90 L920.76 1764.80 L914.53 1764.80 L910.37 1766.90 L906.21 1771.10 L904.13 1777.40 L904.13 1781.60 L906.21 1787.90 L910.37 1792.10 L914.53 1794.20 L920.76 1794.20 L924.92 1792.10 L929.08 1787.90 M937.40 1750.10 L954.03 1794.20 M970.66 1750.10 L954.03 1794.20 M978.98 1741.70 L983.13 1745.90 L987.29 1752.20 L991.45 1760.60 L993.53 1771.10 L993.53 1779.50 L991.45 1790.00 L987.29 1798.40 L983.13 1804.70 L978.98 1808.90 M1076.69 1756.40 L1043.42 1775.30 L1076.69 1794.20 M1124.51 1780.13 L1124.51 1775.93 L1126.59 1769.63 L1130.74 1767.53 L1134.90 1767.53 L1139.06 1769.63 L1147.38 1775.93 L1151.53 1778.03 L1155.69 1778.03 L1159.85 1775.93 L1161.93 1771.73 M1124.51 1775.93 L1126.59 1771.73 L1130.74 1769.63 L1134.90 1769.63 L1139.06 1771.73 L1147.38 1778.03 L1151.53 1780.13 L1155.69 1780.13 L1159.85 1778.03 L1161.93 1771.73 L1161.93 1767.53 M1176.48 1750.10 L1199.35 1750.10 L1186.88 1766.90 L1193.11 1766.90 L1197.27 1769.00 L1199.35 1771.10 L1201.43 1777.40 L1201.43 1781.60 L1199.35 1787.90 L1195.19 1792.10 L1188.96 1794.20 L1182.72 1794.20 L1176.48 1792.10 L1174.40 1790.00 L1172.32 1785.80 M1243.01 1750.10 L1222.22 1794.20 M1213.90 1750.10 L1243.01 1750.10 M1267.96 1750.10 L1261.72 1752.20 L1257.56 1758.50 L1255.48 1769.00 L1255.48 1775.30 L1257.56 1785.80 L1261.72 1792.10 L1267.96 1794.20 L1272.12 1794.20 L1278.35 1792.10 L1282.51 1785.80 L1284.59 1775.30 L1284.59 1769.00 L1282.51 1758.50 L1278.35 1752.20 L1272.12 1750.10Z M276.37 2374.50 L255.58 2403.90 L286.76 2403.90 M276.37 2374.50 L276.37 2418.60 M309.63 2374.50 L303.39 2376.60 L299.24 2382.90 L297.16 2393.40 L297.16 2399.70 L299.24 2410.20 L303.39 2416.50 L309.63 2418.60 L313.79 2418.60 L320.03 2416.50 L324.18 2410.20 L326.26 2399.70 L326.26 2393.40 L324.18 2382.90 L320.03 2376.60 L313.79 2374.50Z M282.60 2179.70 L280.52 2175.50 L274.29 2173.40 L270.13 2173.40 L263.89 2175.50 L259.74 2181.80 L257.66 2192.30 L257.66 2202.80 L259.74 2211.20 L263.89 2215.40 L270.13 2217.50 L272.21 2217.50 L278.45 2215.40 L282.60 2211.20 L284.68 2204.90 L284.68 2202.80 L282.60 2196.50 L278.45 2192.30 L272.21 2190.20 L270.13 2190.20 L263.89 2192.30 L259.74 2196.50 L257.66 2202.80 M309.63 2173.40 L303.39 2175.50 L299.24 2181.80 L297.16 2192.30 L297.16 2198.60 L299.24 2209.10 L303.39 2215.40 L309.63 2217.50 L313.79 2217.50 L320.03 2215.40 L324.18 2209.10 L326.26 2198.60 L326.26 2192.30 L324.18 2181.80 L320.03 2175.50 L313.79 2173.40Z M265.97 1972.30 L259.74 1974.40 L257.66 1978.60 L257.66 1982.80 L259.74 1987.00 L263.89 1989.10 L272.21 1991.20 L278.45 1993.30 L282.60 1997.50 L284.68 2001.70 L284.68 2008.00 L282.60 2012.20 L280.52 2014.30 L274.29 2016.40 L265.97 2016.40 L259.74 2014.30 L257.66 2012.20 L255.58 2008.00 L255.58 2001.70 L257.66 1997.50 L261.81 1993.30 L268.05 1991.20 L276.37 1989.10 L280.52 1987.00 L282.60 1982.80 L282.60 1978.60 L280.52 1974.40 L274.29 1972.30Z M309.63 1972.30 L303.39 1974.40 L299.24 1980.70 L297.16 1991.20 L297.16 1997.50 L299.24 2008.00 L303.39 2014.30 L309.63 2016.40 L313.79 2016.40 L320.03 2014.30 L324.18 2008.00 L326.26 1997.50 L326.26 1991.20 L324.18 1980.70 L320.03 1974.40 L313.79 1972.30Z M220.23 1779.60 L224.39 1777.50 L230.63 1771.20 L230.63 1815.30 M268.05 1771.20 L261.81 1773.30 L257.66 1779.60 L255.58 1790.10 L255.58 1796.40 L257.66 1806.90 L261.81 1813.20 L268.05 1815.30 L272.21 1815.30 L278.45 1813.20 L282.60 1806.90 L284.68 1796.40 L284.68 1790.10 L282.60 1779.60 L278.45 1773.30 L272.21 1771.20Z M309.63 1771.20 L303.39 1773.30 L299.24 1779.60 L297.16 1790.10 L297.16 1796.40 L299.24 1806.90 L303.39 1813.20 L309.63 1815.30 L313.79 1815.30 L320.03 1813.20 L324.18 1806.90 L326.26 1796.40 L326.26 1790.10 L324.18 1779.60 L320.03 1773.30 L313.79 1771.20Z M108.00 2401.34 L152.10 2401.34 M108.00 2401.34 L108.00 2382.62 L110.10 2376.39 L112.20 2374.31 L116.40 2372.23 L120.60 2372.23 L124.80 2374.31 L126.90 2376.39 L129.00 2382.62 L129.00 2401.34 M129.00 2386.78 L152.10 2372.23 M122.70 2334.81 L152.10 2334.81 M129.00 2334.81 L124.80 2338.97 L122.70 2343.12 L122.70 2349.36 L124.80 2353.52 L129.00 2357.68 L135.30 2359.76 L139.50 2359.76 L145.80 2357.68 L150.00 2353.52 L152.10 2349.36 L152.10 2343.12 L150.00 2338.97 L145.80 2334.81 M108.00 2316.10 L143.70 2316.10 L150.00 2314.02 L152.10 2309.86 L152.10 2305.70 M122.70 2322.33 L122.70 2307.78 M135.30 2295.31 L135.30 2270.36 L131.10 2270.36 L126.90 2272.44 L124.80 2274.52 L122.70 2278.67 L122.70 2284.91 L124.80 2289.07 L129.00 2293.23 L135.30 2295.31 L139.50 2295.31 L145.80 2293.23 L150.00 2289.07 L152.10 2284.91 L152.10 2278.67 L150.00 2274.52 L145.80 2270.36 M99.60 2207.99 L103.80 2212.15 L110.10 2216.30 L118.50 2220.46 L129.00 2222.54 L137.40 2222.54 L147.90 2220.46 L156.30 2216.30 L162.60 2212.15 L166.80 2207.99 M129.00 2170.57 L124.80 2174.72 L122.70 2178.88 L122.70 2185.12 L124.80 2189.28 L129.00 2193.44 L135.30 2195.51 L139.50 2195.51 L145.80 2193.44 L150.00 2189.28 L152.10 2185.12 L152.10 2178.88 L150.00 2174.72 L145.80 2170.57 M122.70 2147.70 L124.80 2151.86 L129.00 2156.01 L135.30 2158.09 L139.50 2158.09 L145.80 2156.01 L150.00 2151.86 L152.10 2147.70 L152.10 2141.46 L150.00 2137.30 L145.80 2133.14 L139.50 2131.07 L135.30 2131.07 L129.00 2133.14 L124.80 2137.30 L122.70 2141.46Z M122.70 2116.51 L143.70 2116.51 L150.00 2114.43 L152.10 2110.28 L152.10 2104.04 L150.00 2099.88 L143.70 2093.64 M122.70 2093.64 L152.10 2093.64 M122.70 2077.01 L152.10 2077.01 M131.10 2077.01 L124.80 2070.77 L122.70 2066.62 L122.70 2060.38 L124.80 2056.22 L131.10 2054.14 L152.10 2054.14 M108.00 2035.43 L143.70 2035.43 L150.00 2033.35 L152.10 2029.19 L152.10 2025.04 M122.70 2041.67 L122.70 2027.12 M129.00 1991.77 L124.80 1993.85 L122.70 2000.09 L122.70 2006.33 L124.80 2012.56 L129.00 2014.64 L133.20 2012.56 L135.30 2008.40 L137.40 1998.01 L139.50 1993.85 L143.70 1991.77 L145.80 1991.77 L150.00 1993.85 L152.10 2000.09 L152.10 2006.33 L150.00 2012.56 L145.80 2014.64 M99.60 1943.96 L166.80 1981.38 M129.00 1910.69 L124.80 1912.77 L122.70 1919.01 L122.70 1925.24 L124.80 1931.48 L129.00 1933.56 L133.20 1931.48 L135.30 1927.32 L137.40 1916.93 L139.50 1912.77 L143.70 1910.69 L145.80 1910.69 L150.00 1912.77 L152.10 1919.01 L152.10 1925.24 L150.00 1931.48 L145.80 1933.56 M99.60 1898.22 L103.80 1894.06 L110.10 1889.90 L118.50 1885.74 L129.00 1883.66 L137.40 1883.66 L147.90 1885.74 L156.30 1889.90 L162.60 1894.06 L166.80 1898.22 M477.94 943.93 L477.94 939.73 L480.02 933.43 L484.17 931.33 L488.33 931.33 L492.49 933.43 L500.81 939.73 L504.96 941.83 L509.12 941.83 L513.28 939.73 L515.36 935.53 M477.94 939.73 L480.02 935.53 L484.17 933.43 L488.33 933.43 L492.49 935.53 L500.81 941.83 L504.96 943.93 L509.12 943.93 L513.28 941.83 L515.36 935.53 L515.36 931.33 M529.91 913.90 L552.78 913.90 L540.31 930.70 L546.54 930.70 L550.70 932.80 L552.78 934.90 L554.86 941.20 L554.86 945.40 L552.78 951.70 L548.62 955.90 L542.39 958.00 L536.15 958.00 L529.91 955.90 L527.83 953.80 L525.75 949.60 M596.44 913.90 L575.65 958.00 M567.33 913.90 L596.44 913.90 M621.39 913.90 L615.15 916.00 L610.99 922.30 L608.91 932.80 L608.91 939.10 L610.99 949.60 L615.15 955.90 L621.39 958.00 L625.55 958.00 L631.78 955.90 L635.94 949.60 L638.02 939.10 L638.02 932.80 L635.94 922.30 L631.78 916.00 L625.55 913.90Z M720.14 912.64 L685.01 926.71 L720.14 940.78 M685.84 945.61 L720.14 945.61 M685.84 956.11 L720.14 956.11 M769.00 913.90 L769.00 958.00 M769.00 913.90 L796.02 913.90 M769.00 934.90 L785.63 934.90 M769.00 958.00 L796.02 958.00 M856.32 905.50 L852.16 909.70 L848.00 916.00 L843.84 924.40 L841.76 934.90 L841.76 943.30 L843.84 953.80 L848.00 962.20 L852.16 968.50 L856.32 972.70 M870.87 913.90 L870.87 958.00 M891.66 928.60 L870.87 949.60 M879.18 941.20 L893.74 958.00 M904.13 941.20 L929.08 941.20 L929.08 937.00 L927.00 932.80 L924.92 930.70 L920.76 928.60 L914.53 928.60 L910.37 930.70 L906.21 934.90 L904.13 941.20 L904.13 945.40 L906.21 951.70 L910.37 955.90 L914.53 958.00 L920.76 958.00 L924.92 955.90 L929.08 951.70 M937.40 913.90 L954.03 958.00 M970.66 913.90 L954.03 958.00 M978.98 905.50 L983.13 909.70 L987.29 916.00 L991.45 924.40 L993.53 934.90 L993.53 943.30 L991.45 953.80 L987.29 962.20 L983.13 968.50 L978.98 972.70 M1076.69 920.20 L1043.42 939.10 L1076.69 958.00 M1124.51 943.93 L1124.51 939.73 L1126.59 933.43 L1130.74 931.33 L1134.90 931.33 L1139.06 933.43 L1147.38 939.73 L1151.53 941.83 L1155.69 941.83 L1159.85 939.73 L1161.93 935.53 M1124.51 939.73 L1126.59 935.53 L1130.74 933.43 L1134.90 933.43 L1139.06 935.53 L1147.38 941.83 L1151.53 943.93 L1155.69 943.93 L1159.85 941.83 L1161.93 935.53 L1161.93 931.33 M1199.35 920.20 L1197.27 916.00 L1191.03 913.90 L1186.88 913.90 L1180.64 916.00 L1176.48 922.30 L1174.40 932.80 L1174.40 943.30 L1176.48 951.70 L1180.64 955.90 L1186.88 958.00 L1188.96 958.00 L1195.19 955.90 L1199.35 951.70 L1201.43 945.40 L1201.43 943.30 L1199.35 937.00 L1195.19 932.80 L1188.96 930.70 L1186.88 930.70 L1180.64 932.80 L1176.48 937.00 L1174.40 943.30 M1218.06 913.90 L1240.93 913.90 L1228.46 930.70 L1234.69 930.70 L1238.85 932.80 L1240.93 934.90 L1243.01 941.20 L1243.01 945.40 L1240.93 951.70 L1236.77 955.90 L1230.54 958.00 L1224.30 958.00 L1218.06 955.90 L1215.98 953.80 L1213.90 949.60 M1267.96 913.90 L1261.72 916.00 L1257.56 922.30 L1255.48 932.80 L1255.48 939.10 L1257.56 949.60 L1261.72 955.90 L1267.96 958.00 L1272.12 958.00 L1278.35 955.90 L1282.51 949.60 L1284.59 939.10 L1284.59 932.80 L1282.51 922.30 L1278.35 916.00 L1272.12 913.90Z M261.81 1592.67 L265.97 1590.57 L272.21 1584.27 L272.21 1628.37 M309.63 1584.27 L303.39 1586.37 L299.24 1592.67 L297.16 1603.17 L297.16 1609.47 L299.24 1619.97 L303.39 1626.27 L309.63 1628.37 L313.79 1628.37 L320.03 1626.27 L324.18 1619.97 L326.26 1609.47 L326.26 1603.17 L324.18 1592.67 L320.03 1586.37 L313.79 1584.27Z M257.66 1383.77 L257.66 1381.67 L259.74 1377.47 L261.81 1375.37 L265.97 1373.27 L274.29 1373.27 L278.45 1375.37 L280.52 1377.47 L282.60 1381.67 L282.60 1385.87 L280.52 1390.07 L276.37 1396.37 L255.58 1417.37 L284.68 1417.37 M309.63 1373.27 L303.39 1375.37 L299.24 1381.67 L297.16 1392.17 L297.16 1398.47 L299.24 1408.97 L303.39 1415.27 L309.63 1417.37 L313.79 1417.37 L320.03 1415.27 L324.18 1408.97 L326.26 1398.47 L326.26 1392.17 L324.18 1381.67 L320.03 1375.37 L313.79 1373.27Z M259.74 1162.27 L282.60 1162.27 L270.13 1179.07 L276.37 1179.07 L280.52 1181.17 L282.60 1183.27 L284.68 1189.57 L284.68 1193.77 L282.60 1200.07 L278.45 1204.27 L272.21 1206.37 L265.97 1206.37 L259.74 1204.27 L257.66 1202.17 L255.58 1197.97 M309.63 1162.27 L303.39 1164.37 L299.24 1170.67 L297.16 1181.17 L297.16 1187.47 L299.24 1197.97 L303.39 1204.27 L309.63 1206.37 L313.79 1206.37 L320.03 1204.27 L324.18 1197.97 L326.26 1187.47 L326.26 1181.17 L324.18 1170.67 L320.03 1164.37 L313.79 1162.27Z M276.37 951.27 L255.58 980.67 L286.76 980.67 M276.37 951.27 L276.37 995.37 M309.63 951.27 L303.39 953.37 L299.24 959.67 L297.16 970.17 L297.16 976.47 L299.24 986.97 L303.39 993.27 L309.63 995.37 L313.79 995.37 L320.03 993.27 L324.18 986.97 L326.26 976.47 L326.26 970.17 L324.18 959.67 L320.03 953.37 L313.79 951.27Z M149.10 1565.14 L193.20 1565.14 M149.10 1565.14 L149.10 1546.42 L151.20 1540.19 L153.30 1538.11 L157.50 1536.03 L161.70 1536.03 L165.90 1538.11 L168.00 1540.19 L170.10 1546.42 L170.10 1565.14 M170.10 1550.58 L193.20 1536.03 M163.80 1498.61 L193.20 1498.61 M170.10 1498.61 L165.90 1502.77 L163.80 1506.92 L163.80 1513.16 L165.90 1517.32 L170.10 1521.48 L176.40 1523.56 L180.60 1523.56 L186.90 1521.48 L191.10 1517.32 L193.20 1513.16 L193.20 1506.92 L191.10 1502.77 L186.90 1498.61 M149.10 1479.90 L184.80 1479.90 L191.10 1477.82 L193.20 1473.66 L193.20 1469.50 M163.80 1486.13 L163.80 1471.58 M176.40 1459.11 L176.40 1434.16 L172.20 1434.16 L168.00 1436.24 L165.90 1438.32 L163.80 1442.47 L163.80 1448.71 L165.90 1452.87 L170.10 1457.03 L176.40 1459.11 L180.60 1459.11 L186.90 1457.03 L191.10 1452.87 L193.20 1448.71 L193.20 1442.47 L191.10 1438.32 L186.90 1434.16 M140.70 1371.79 L144.90 1375.95 L151.20 1380.10 L159.60 1384.26 L170.10 1386.34 L178.50 1386.34 L189.00 1384.26 L197.40 1380.10 L203.70 1375.95 L207.90 1371.79 M170.10 1334.37 L165.90 1338.52 L163.80 1342.68 L163.80 1348.92 L165.90 1353.08 L170.10 1357.24 L176.40 1359.31 L180.60 1359.31 L186.90 1357.24 L191.10 1353.08 L193.20 1348.92 L193.20 1342.68 L191.10 1338.52 L186.90 1334.37 M163.80 1311.50 L165.90 1315.66 L170.10 1319.81 L176.40 1321.89 L180.60 1321.89 L186.90 1319.81 L191.10 1315.66 L193.20 1311.50 L193.20 1305.26 L191.10 1301.10 L186.90 1296.94 L180.60 1294.87 L176.40 1294.87 L170.10 1296.94 L165.90 1301.10 L163.80 1305.26Z M163.80 1280.31 L184.80 1280.31 L191.10 1278.23 L193.20 1274.08 L193.20 1267.84 L191.10 1263.68 L184.80 1257.44 M163.80 1257.44 L193.20 1257.44 M163.80 1240.81 L193.20 1240.81 M172.20 1240.81 L165.90 1234.57 L163.80 1230.42 L163.80 1224.18 L165.90 1220.02 L172.20 1217.94 L193.20 1217.94 M149.10 1199.23 L184.80 1199.23 L191.10 1197.15 L193.20 1192.99 L193.20 1188.84 M163.80 1205.47 L163.80 1190.92 M170.10 1155.57 L165.90 1157.65 L163.80 1163.89 L163.80 1170.13 L165.90 1176.36 L170.10 1178.44 L174.30 1176.36 L176.40 1172.20 L178.50 1161.81 L180.60 1157.65 L184.80 1155.57 L186.90 1155.57 L191.10 1157.65 L193.20 1163.89 L193.20 1170.13 L191.10 1176.36 L186.90 1178.44 M140.70 1107.76 L207.90 1145.18 M170.10 1074.49 L165.90 1076.57 L163.80 1082.81 L163.80 1089.04 L165.90 1095.28 L170.10 1097.36 L174.30 1095.28 L176.40 1091.12 L178.50 1080.73 L180.60 1076.57 L184.80 1074.49 L186.90 1074.49 L191.10 1076.57 L193.20 1082.81 L193.20 1089.04 L191.10 1095.28 L186.90 1097.36 M140.70 1062.02 L144.90 1057.86 L151.20 1053.70 L159.60 1049.54 L170.10 1047.46 L178.50 1047.46 L189.00 1049.54 L197.40 1053.70 L203.70 1057.86 L207.90 1062.02 M477.94 107.73 L477.94 103.53 L480.02 97.23 L484.17 95.13 L488.33 95.13 L492.49 97.23 L500.81 103.53 L504.96 105.63 L509.12 105.63 L513.28 103.53 L515.36 99.33 M477.94 103.53 L480.02 99.33 L484.17 97.23 L488.33 97.23 L492.49 99.33 L500.81 105.63 L504.96 107.73 L509.12 107.73 L513.28 105.63 L515.36 99.33 L515.36 95.13 M552.78 84.00 L550.70 79.80 L544.47 77.70 L540.31 77.70 L534.07 79.80 L529.91 86.10 L527.83 96.60 L527.83 107.10 L529.91 115.50 L534.07 119.70 L540.31 121.80 L542.39 121.80 L548.62 119.70 L552.78 115.50 L554.86 109.20 L554.86 107.10 L552.78 100.80 L548.62 96.60 L542.39 94.50 L540.31 94.50 L534.07 96.60 L529.91 100.80 L527.83 107.10 M571.49 77.70 L594.36 77.70 L581.89 94.50 L588.12 94.50 L592.28 96.60 L594.36 98.70 L596.44 105.00 L596.44 109.20 L594.36 115.50 L590.20 119.70 L583.97 121.80 L577.73 121.80 L571.49 119.70 L569.41 117.60 L567.33 113.40 M621.39 77.70 L615.15 79.80 L610.99 86.10 L608.91 96.60 L608.91 102.90 L610.99 113.40 L615.15 119.70 L621.39 121.80 L625.55 121.80 L631.78 119.70 L635.94 113.40 L638.02 102.90 L638.02 96.60 L635.94 86.10 L631.78 79.80 L625.55 77.70Z M720.14 76.44 L685.01 90.51 L720.14 104.58 M685.84 109.41 L720.14 109.41 M685.84 119.91 L720.14 119.91 M769.00 77.70 L769.00 121.80 M769.00 77.70 L796.02 77.70 M769.00 98.70 L785.63 98.70 M769.00 121.80 L796.02 121.80 M856.32 69.30 L852.16 73.50 L848.00 79.80 L843.84 88.20 L841.76 98.70 L841.76 107.10 L843.84 117.60 L848.00 126.00 L852.16 132.30 L856.32 136.50 M870.87 77.70 L870.87 121.80 M891.66 92.40 L870.87 113.40 M879.18 105.00 L893.74 121.80 M904.13 105.00 L929.08 105.00 L929.08 100.80 L927.00 96.60 L924.92 94.50 L920.76 92.40 L914.53 92.40 L910.37 94.50 L906.21 98.70 L904.13 105.00 L904.13 109.20 L906.21 115.50 L910.37 119.70 L914.53 121.80 L920.76 121.80 L924.92 119.70 L929.08 115.50 M937.40 77.70 L954.03 121.80 M970.66 77.70 L954.03 121.80 M978.98 69.30 L983.13 73.50 L987.29 79.80 L991.45 88.20 L993.53 98.70 L993.53 107.10 L991.45 117.60 L987.29 126.00 L983.13 132.30 L978.98 136.50 M1076.69 84.00 L1043.42 102.90 L1076.69 121.80 M1124.51 107.73 L1124.51 103.53 L1126.59 97.23 L1130.74 95.13 L1134.90 95.13 L1139.06 97.23 L1147.38 103.53 L1151.53 105.63 L1155.69 105.63 L1159.85 103.53 L1161.93 99.33 M1124.51 103.53 L1126.59 99.33 L1130.74 97.23 L1134.90 97.23 L1139.06 99.33 L1147.38 105.63 L1151.53 107.73 L1155.69 107.73 L1159.85 105.63 L1161.93 99.33 L1161.93 95.13 M1182.72 77.70 L1176.48 79.80 L1174.40 84.00 L1174.40 88.20 L1176.48 92.40 L1180.64 94.50 L1188.96 96.60 L1195.19 98.70 L1199.35 102.90 L1201.43 107.10 L1201.43 113.40 L1199.35 117.60 L1197.27 119.70 L1191.03 121.80 L1182.72 121.80 L1176.48 119.70 L1174.40 117.60 L1172.32 113.40 L1172.32 107.10 L1174.40 102.90 L1178.56 98.70 L1184.80 96.60 L1193.11 94.50 L1197.27 92.40 L1199.35 88.20 L1199.35 84.00 L1197.27 79.80 L1191.03 77.70Z M1240.93 92.40 L1238.85 98.70 L1234.69 102.90 L1228.46 105.00 L1226.38 105.00 L1220.14 102.90 L1215.98 98.70 L1213.90 92.40 L1213.90 90.30 L1215.98 84.00 L1220.14 79.80 L1226.38 77.70 L1228.46 77.70 L1234.69 79.80 L1238.85 84.00 L1240.93 92.40 L1240.93 102.90 L1238.85 113.40 L1234.69 119.70 L1228.46 121.80 L1224.30 121.80 L1218.06 119.70 L1215.98 115.50 M1267.96 77.70 L1261.72 79.80 L1257.56 86.10 L1255.48 96.60 L1255.48 102.90 L1257.56 113.40 L1261.72 119.70 L1267.96 121.80 L1272.12 121.80 L1278.35 119.70 L1282.51 113.40 L1284.59 102.90 L1284.59 96.60 L1282.51 86.10 L1278.35 79.80 L1272.12 77.70Z M247.26 843.10 L241.02 845.20 L236.87 851.50 L234.79 862.00 L234.79 868.30 L236.87 878.80 L241.02 885.10 L247.26 887.20 L251.42 887.20 L257.66 885.10 L261.81 878.80 L263.89 868.30 L263.89 862.00 L261.81 851.50 L257.66 845.20 L251.42 843.10Z M280.52 883.00 L278.45 885.10 L280.52 887.20 L282.60 885.10Z M309.63 843.10 L303.39 845.20 L299.24 851.50 L297.16 862.00 L297.16 868.30 L299.24 878.80 L303.39 885.10 L309.63 887.20 L313.79 887.20 L320.03 885.10 L324.18 878.80 L326.26 868.30 L326.26 862.00 L324.18 851.50 L320.03 845.20 L313.79 843.10Z M247.26 658.95 L241.02 661.05 L236.87 667.35 L234.79 677.85 L234.79 684.15 L236.87 694.65 L241.02 700.95 L247.26 703.05 L251.42 703.05 L257.66 700.95 L261.81 694.65 L263.89 684.15 L263.89 677.85 L261.81 667.35 L257.66 661.05 L251.42 658.95Z M280.52 698.85 L278.45 700.95 L280.52 703.05 L282.60 700.95Z M322.11 658.95 L301.31 658.95 L299.24 677.85 L301.31 675.75 L307.55 673.65 L313.79 673.65 L320.03 675.75 L324.18 679.95 L326.26 686.25 L326.26 690.45 L324.18 696.75 L320.03 700.95 L313.79 703.05 L307.55 703.05 L301.31 700.95 L299.24 698.85 L297.16 694.65 M241.02 458.30 L245.18 456.20 L251.42 449.90 L251.42 494.00 M280.52 489.80 L278.45 491.90 L280.52 494.00 L282.60 491.90Z M309.63 449.90 L303.39 452.00 L299.24 458.30 L297.16 468.80 L297.16 475.10 L299.24 485.60 L303.39 491.90 L309.63 494.00 L313.79 494.00 L320.03 491.90 L324.18 485.60 L326.26 475.10 L326.26 468.80 L324.18 458.30 L320.03 452.00 L313.79 449.90Z M241.02 249.25 L245.18 247.15 L251.42 240.85 L251.42 284.95 M280.52 280.75 L278.45 282.85 L280.52 284.95 L282.60 282.85Z M322.11 240.85 L301.31 240.85 L299.24 259.75 L301.31 257.65 L307.55 255.55 L313.79 255.55 L320.03 257.65 L324.18 261.85 L326.26 268.15 L326.26 272.35 L324.18 278.65 L320.03 282.85 L313.79 284.95 L307.55 284.95 L301.31 282.85 L299.24 280.75 L297.16 276.55 M236.87 61.50 L236.87 59.40 L238.94 55.20 L241.02 53.10 L245.18 51.00 L253.50 51.00 L257.66 53.10 L259.74 55.20 L261.81 59.40 L261.81 63.60 L259.74 67.80 L255.58 74.10 L234.79 95.10 L263.89 95.10 M280.52 90.90 L278.45 93.00 L280.52 95.10 L282.60 93.00Z M309.63 51.00 L303.39 53.10 L299.24 59.40 L297.16 69.90 L297.16 76.20 L299.24 86.70 L303.39 93.00 L309.63 95.10 L313.79 95.10 L320.03 93.00 L324.18 86.70 L326.26 76.20 L326.26 69.90 L324.18 59.40 L320.03 53.10 L313.79 51.00Z M128.70 728.94 L172.80 728.94 M128.70 728.94 L128.70 710.22 L130.80 703.99 L132.90 701.91 L137.10 699.83 L141.30 699.83 L145.50 701.91 L147.60 703.99 L149.70 710.22 L149.70 728.94 M149.70 714.38 L172.80 699.83 M143.40 662.41 L172.80 662.41 M149.70 662.41 L145.50 666.57 L143.40 670.72 L143.40 676.96 L145.50 681.12 L149.70 685.28 L156.00 687.36 L160.20 687.36 L166.50 685.28 L170.70 681.12 L172.80 676.96 L172.80 670.72 L170.70 666.57 L166.50 662.41 M128.70 643.70 L164.40 643.70 L170.70 641.62 L172.80 637.46 L172.80 633.30 M143.40 649.93 L143.40 635.38 M156.00 622.91 L156.00 597.96 L151.80 597.96 L147.60 600.04 L145.50 602.12 L143.40 606.27 L143.40 612.51 L145.50 616.67 L149.70 620.83 L156.00 622.91 L160.20 622.91 L166.50 620.83 L170.70 616.67 L172.80 612.51 L172.80 606.27 L170.70 602.12 L166.50 597.96 M120.30 535.59 L124.50 539.75 L130.80 543.90 L139.20 548.06 L149.70 550.14 L158.10 550.14 L168.60 548.06 L177.00 543.90 L183.30 539.75 L187.50 535.59 M149.70 498.17 L145.50 502.32 L143.40 506.48 L143.40 512.72 L145.50 516.88 L149.70 521.04 L156.00 523.11 L160.20 523.11 L166.50 521.04 L170.70 516.88 L172.80 512.72 L172.80 506.48 L170.70 502.32 L166.50 498.17 M143.40 475.30 L145.50 479.46 L149.70 483.61 L156.00 485.69 L160.20 485.69 L166.50 483.61 L170.70 479.46 L172.80 475.30 L172.80 469.06 L170.70 464.90 L166.50 460.74 L160.20 458.67 L156.00 458.67 L149.70 460.74 L145.50 464.90 L143.40 469.06Z M143.40 444.11 L164.40 444.11 L170.70 442.03 L172.80 437.88 L172.80 431.64 L170.70 427.48 L164.40 421.24 M143.40 421.24 L172.80 421.24 M143.40 404.61 L172.80 404.61 M151.80 404.61 L145.50 398.37 L143.40 394.22 L143.40 387.98 L145.50 383.82 L151.80 381.74 L172.80 381.74 M128.70 363.03 L164.40 363.03 L170.70 360.95 L172.80 356.79 L172.80 352.64 M143.40 369.27 L143.40 354.72 M149.70 319.37 L145.50 321.45 L143.40 327.69 L143.40 333.93 L145.50 340.16 L149.70 342.24 L153.90 340.16 L156.00 336.00 L158.10 325.61 L160.20 321.45 L164.40 319.37 L166.50 319.37 L170.70 321.45 L172.80 327.69 L172.80 333.93 L170.70 340.16 L166.50 342.24 M120.30 271.56 L187.50 308.98 M149.70 238.29 L145.50 240.37 L143.40 246.61 L143.40 252.84 L145.50 259.08 L149.70 261.16 L153.90 259.08 L156.00 254.92 L158.10 244.53 L160.20 240.37 L164.40 238.29 L166.50 238.29 L170.70 240.37 L172.80 246.61 L172.80 252.84 L170.70 259.08 L166.50 261.16 M120.30 225.82 L124.50 221.66 L130.80 217.50 L139.20 213.34 L149.70 211.26 L158.10 211.26 L168.60 213.34 L177.00 217.50 L183.30 221.66 L187.50 225.82 M350.22 4281.90 L343.98 4284.00 L339.83 4290.30 L337.75 4300.80 L337.75 4307.10 L339.83 4317.60 L343.98 4323.90 L350.22 4326.00 L354.38 4326.00 L360.62 4323.90 L364.77 4317.60 L366.85 4307.10 L366.85 4300.80 L364.77 4290.30 L360.62 4284.00 L354.38 4281.90Z M816.08 4292.40 L816.08 4290.30 L818.15 4286.10 L820.23 4284.00 L824.39 4281.90 L832.71 4281.90 L836.87 4284.00 L838.94 4286.10 L841.02 4290.30 L841.02 4294.50 L838.94 4298.70 L834.79 4305.00 L814.00 4326.00 L843.10 4326.00 M868.05 4281.90 L861.81 4284.00 L857.66 4290.30 L855.58 4300.80 L855.58 4307.10 L857.66 4317.60 L861.81 4323.90 L868.05 4326.00 L872.21 4326.00 L878.45 4323.90 L882.60 4317.60 L884.68 4307.10 L884.68 4300.80 L882.60 4290.30 L878.45 4284.00 L872.21 4281.90Z M1331.83 4281.90 L1311.04 4311.30 L1342.22 4311.30 M1331.83 4281.90 L1331.83 4326.00 M1365.09 4281.90 L1358.85 4284.00 L1354.70 4290.30 L1352.62 4300.80 L1352.62 4307.10 L1354.70 4317.60 L1358.85 4323.90 L1365.09 4326.00 L1369.25 4326.00 L1375.49 4323.90 L1379.64 4317.60 L1381.72 4307.10 L1381.72 4300.80 L1379.64 4290.30 L1375.49 4284.00 L1369.25 4281.90Z M1835.10 4288.20 L1833.03 4284.00 L1826.79 4281.90 L1822.63 4281.90 L1816.39 4284.00 L1812.24 4290.30 L1810.16 4300.80 L1810.16 4311.30 L1812.24 4319.70 L1816.39 4323.90 L1822.63 4326.00 L1824.71 4326.00 L1830.95 4323.90 L1835.10 4319.70 L1837.18 4313.40 L1837.18 4311.30 L1835.10 4305.00 L1830.95 4300.80 L1824.71 4298.70 L1822.63 4298.70 L1816.39 4300.80 L1812.24 4305.00 L1810.16 4311.30 M1862.13 4281.90 L1855.89 4284.00 L1851.74 4290.30 L1849.66 4300.80 L1849.66 4307.10 L1851.74 4317.60 L1855.89 4323.90 L1862.13 4326.00 L1866.29 4326.00 L1872.53 4323.90 L1876.68 4317.60 L1878.76 4307.10 L1878.76 4300.80 L1876.68 4290.30 L1872.53 4284.00 L1866.29 4281.90Z M2315.51 4281.90 L2309.28 4284.00 L2307.20 4288.20 L2307.20 4292.40 L2309.28 4296.60 L2313.43 4298.70 L2321.75 4300.80 L2327.99 4302.90 L2332.14 4307.10 L2334.22 4311.30 L2334.22 4317.60 L2332.14 4321.80 L2330.07 4323.90 L2323.83 4326.00 L2315.51 4326.00 L2309.28 4323.90 L2307.20 4321.80 L2305.12 4317.60 L2305.12 4311.30 L2307.20 4307.10 L2311.35 4302.90 L2317.59 4300.80 L2325.91 4298.70 L2330.07 4296.60 L2332.14 4292.40 L2332.14 4288.20 L2330.07 4284.00 L2323.83 4281.90Z M2359.17 4281.90 L2352.93 4284.00 L2348.78 4290.30 L2346.70 4300.80 L2346.70 4307.10 L2348.78 4317.60 L2352.93 4323.90 L2359.17 4326.00 L2363.33 4326.00 L2369.57 4323.90 L2373.72 4317.60 L2375.80 4307.10 L2375.80 4300.80 L2373.72 4290.30 L2369.57 4284.00 L2363.33 4281.90Z M2787.60 4290.30 L2791.76 4288.20 L2798.00 4281.90 L2798.00 4326.00 M2835.42 4281.90 L2829.18 4284.00 L2825.03 4290.30 L2822.95 4300.80 L2822.95 4307.10 L2825.03 4317.60 L2829.18 4323.90 L2835.42 4326.00 L2839.58 4326.00 L2845.82 4323.90 L2849.97 4317.60 L2852.05 4307.10 L2852.05 4300.80 L2849.97 4290.30 L2845.82 4284.00 L2839.58 4281.90Z M2877.00 4281.90 L2870.76 4284.00 L2866.61 4290.30 L2864.53 4300.80 L2864.53 4307.10 L2866.61 4317.60 L2870.76 4323.90 L2877.00 4326.00 L2881.16 4326.00 L2887.40 4323.90 L2891.55 4317.60 L2893.63 4307.10 L2893.63 4300.80 L2891.55 4290.30 L2887.40 4284.00 L2881.16 4281.90Z M774.82 4362.50 L774.82 4406.60 M760.27 4362.50 L789.37 4362.50 M797.69 4362.50 L799.77 4364.60 L801.85 4362.50 L799.77 4360.40Z M799.77 4377.20 L799.77 4406.60 M816.40 4377.20 L816.40 4406.60 M816.40 4385.60 L822.64 4379.30 L826.80 4377.20 L833.03 4377.20 L837.19 4379.30 L839.27 4385.60 L839.27 4406.60 M839.27 4385.60 L845.51 4379.30 L849.66 4377.20 L855.90 4377.20 L860.06 4379.30 L862.14 4385.60 L862.14 4406.60 M876.69 4389.80 L901.64 4389.80 L901.64 4385.60 L899.56 4381.40 L897.48 4379.30 L893.32 4377.20 L887.09 4377.20 L882.93 4379.30 L878.77 4383.50 L876.69 4389.80 L876.69 4394.00 L878.77 4400.30 L882.93 4404.50 L887.09 4406.60 L893.32 4406.60 L897.48 4404.50 L901.64 4400.30 M964.01 4354.10 L959.85 4358.30 L955.69 4364.60 L951.54 4373.00 L949.46 4383.50 L949.46 4391.90 L951.54 4402.40 L955.69 4410.80 L959.85 4417.10 L964.01 4421.30 M999.35 4383.50 L997.27 4379.30 L991.04 4377.20 L984.80 4377.20 L978.56 4379.30 L976.48 4383.50 L978.56 4387.70 L982.72 4389.80 L993.12 4391.90 L997.27 4394.00 L999.35 4398.20 L999.35 4400.30 L997.27 4404.50 L991.04 4406.60 L984.80 4406.60 L978.56 4404.50 L976.48 4400.30 M1011.83 4354.10 L1015.98 4358.30 L1020.14 4364.60 L1024.30 4373.00 L1026.38 4383.50 L1026.38 4391.90 L1024.30 4402.40 L1020.14 4410.80 L1015.98 4417.10 L1011.83 4421.30 M1097.07 4383.50 L1094.99 4379.30 L1088.75 4377.20 L1082.51 4377.20 L1076.28 4379.30 L1074.20 4383.50 L1076.28 4387.70 L1080.43 4389.80 L1090.83 4391.90 L1094.99 4394.00 L1097.07 4398.20 L1097.07 4400.30 L1094.99 4404.50 L1088.75 4406.60 L1082.51 4406.60 L1076.28 4404.50 L1074.20 4400.30 M1109.54 4362.50 L1111.62 4364.60 L1113.70 4362.50 L1111.62 4360.40Z M1111.62 4377.20 L1111.62 4406.60 M1128.25 4377.20 L1128.25 4406.60 M1128.25 4385.60 L1134.49 4379.30 L1138.65 4377.20 L1144.88 4377.20 L1149.04 4379.30 L1151.12 4385.60 L1151.12 4406.60 M1190.62 4383.50 L1186.46 4379.30 L1182.30 4377.20 L1176.07 4377.20 L1171.91 4379.30 L1167.75 4383.50 L1165.67 4389.80 L1165.67 4394.00 L1167.75 4400.30 L1171.91 4404.50 L1176.07 4406.60 L1182.30 4406.60 L1186.46 4404.50 L1190.62 4400.30 M1203.10 4389.80 L1228.04 4389.80 L1228.04 4385.60 L1225.96 4381.40 L1223.88 4379.30 L1219.73 4377.20 L1213.49 4377.20 L1209.33 4379.30 L1205.17 4383.50 L1203.10 4389.80 L1203.10 4394.00 L1205.17 4400.30 L1209.33 4404.50 L1213.49 4406.60 L1219.73 4406.60 L1223.88 4404.50 L1228.04 4400.30 M1275.86 4373.00 L1275.86 4370.90 L1277.94 4366.70 L1280.02 4364.60 L1284.18 4362.50 L1292.49 4362.50 L1296.65 4364.60 L1298.73 4366.70 L1300.81 4370.90 L1300.81 4375.10 L1298.73 4379.30 L1294.57 4385.60 L1273.78 4406.60 L1302.89 4406.60 M1327.84 4362.50 L1321.60 4364.60 L1317.44 4370.90 L1315.36 4381.40 L1315.36 4387.70 L1317.44 4398.20 L1321.60 4404.50 L1327.84 4406.60 L1331.99 4406.60 L1338.23 4404.50 L1342.39 4398.20 L1344.47 4387.70 L1344.47 4381.40 L1342.39 4370.90 L1338.23 4364.60 L1331.99 4362.50Z M1359.02 4373.00 L1359.02 4370.90 L1361.10 4366.70 L1363.18 4364.60 L1367.34 4362.50 L1375.65 4362.50 L1379.81 4364.60 L1381.89 4366.70 L1383.97 4370.90 L1383.97 4375.10 L1381.89 4379.30 L1377.73 4385.60 L1356.94 4406.60 L1386.05 4406.60 M1402.68 4362.50 L1425.55 4362.50 L1413.07 4379.30 L1419.31 4379.30 L1423.47 4381.40 L1425.55 4383.50 L1427.63 4389.80 L1427.63 4394.00 L1425.55 4400.30 L1421.39 4404.50 L1415.15 4406.60 L1408.92 4406.60 L1402.68 4404.50 L1400.60 4402.40 L1398.52 4398.20 M1442.18 4387.70 L1479.60 4387.70 M1506.63 4362.50 L1500.39 4364.60 L1496.23 4370.90 L1494.15 4381.40 L1494.15 4387.70 L1496.23 4398.20 L1500.39 4404.50 L1506.63 4406.60 L1510.79 4406.60 L1517.02 4404.50 L1521.18 4398.20 L1523.26 4387.70 L1523.26 4381.40 L1521.18 4370.90 L1517.02 4364.60 L1510.79 4362.50Z M1541.97 4370.90 L1546.13 4368.80 L1552.37 4362.50 L1552.37 4406.60 M1579.39 4387.70 L1616.82 4387.70 M1643.84 4362.50 L1637.61 4364.60 L1633.45 4370.90 L1631.37 4381.40 L1631.37 4387.70 L1633.45 4398.20 L1637.61 4404.50 L1643.84 4406.60 L1648.00 4406.60 L1654.24 4404.50 L1658.40 4398.20 L1660.47 4387.70 L1660.47 4381.40 L1658.40 4370.90 L1654.24 4364.60 L1648.00 4362.50Z M1675.03 4373.00 L1675.03 4370.90 L1677.11 4366.70 L1679.19 4364.60 L1683.34 4362.50 L1691.66 4362.50 L1695.82 4364.60 L1697.90 4366.70 L1699.98 4370.90 L1699.98 4375.10 L1697.90 4379.30 L1693.74 4385.60 L1672.95 4406.60 L1702.06 4406.60 M1760.27 4362.50 L1754.03 4364.60 L1749.87 4370.90 L1747.79 4381.40 L1747.79 4387.70 L1749.87 4398.20 L1754.03 4404.50 L1760.27 4406.60 L1764.42 4406.60 L1770.66 4404.50 L1774.82 4398.20 L1776.90 4387.70 L1776.90 4381.40 L1774.82 4370.90 L1770.66 4364.60 L1764.42 4362.50Z M1801.85 4362.50 L1795.61 4364.60 L1791.45 4370.90 L1789.37 4381.40 L1789.37 4387.70 L1791.45 4398.20 L1795.61 4404.50 L1801.85 4406.60 L1806.01 4406.60 L1812.24 4404.50 L1816.40 4398.20 L1818.48 4387.70 L1818.48 4381.40 L1816.40 4370.90 L1812.24 4364.60 L1806.01 4362.50Z M1835.11 4377.20 L1833.03 4379.30 L1835.11 4381.40 L1837.19 4379.30Z M1835.11 4402.40 L1833.03 4404.50 L1835.11 4406.60 L1837.19 4404.50Z M1853.82 4373.00 L1853.82 4370.90 L1855.90 4366.70 L1857.98 4364.60 L1862.14 4362.50 L1870.45 4362.50 L1874.61 4364.60 L1876.69 4366.70 L1878.77 4370.90 L1878.77 4375.10 L1876.69 4379.30 L1872.53 4385.60 L1851.74 4406.60 L1880.85 4406.60 M1899.56 4370.90 L1903.72 4368.80 L1909.95 4362.50 L1909.95 4406.60 M1939.06 4377.20 L1936.98 4379.30 L1939.06 4381.40 L1941.14 4379.30Z M1939.06 4402.40 L1936.98 4404.50 L1939.06 4406.60 L1941.14 4404.50Z M1957.77 4373.00 L1957.77 4370.90 L1959.85 4366.70 L1961.93 4364.60 L1966.09 4362.50 L1974.40 4362.50 L1978.56 4364.60 L1980.64 4366.70 L1982.72 4370.90 L1982.72 4375.10 L1980.64 4379.30 L1976.48 4385.60 L1955.69 4406.60 L1984.80 4406.60 M1999.35 4373.00 L1999.35 4370.90 L2001.43 4366.70 L2003.51 4364.60 L2007.67 4362.50 L2015.98 4362.50 L2020.14 4364.60 L2022.22 4366.70 L2024.30 4370.90 L2024.30 4375.10 L2022.22 4379.30 L2018.06 4385.60 L1997.27 4406.60 L2026.38 4406.60 M2043.01 4402.40 L2040.93 4404.50 L2043.01 4406.60 L2045.09 4404.50Z M2084.59 4362.50 L2063.80 4362.50 L2061.72 4381.40 L2063.80 4379.30 L2070.04 4377.20 L2076.28 4377.20 L2082.51 4379.30 L2086.67 4383.50 L2088.75 4389.80 L2088.75 4394.00 L2086.67 4400.30 L2082.51 4404.50 L2076.28 4406.60 L2070.04 4406.60 L2063.80 4404.50 L2061.72 4402.40 L2059.64 4398.20 M2113.70 4362.50 L2107.46 4364.60 L2103.30 4370.90 L2101.22 4381.40 L2101.22 4387.70 L2103.30 4398.20 L2107.46 4404.50 L2113.70 4406.60 L2117.86 4406.60 L2124.09 4404.50 L2128.25 4398.20 L2130.33 4387.70 L2130.33 4381.40 L2128.25 4370.90 L2124.09 4364.60 L2117.86 4362.50Z M2171.91 4362.50 L2151.12 4406.60 M2142.80 4362.50 L2171.91 4362.50 M2186.46 4373.00 L2186.46 4370.90 L2188.54 4366.70 L2190.62 4364.60 L2194.78 4362.50 L2203.09 4362.50 L2207.25 4364.60 L2209.33 4366.70 L2211.41 4370.90 L2211.41 4375.10 L2209.33 4379.30 L2205.17 4385.60 L2184.38 4406.60 L2213.49 4406.60 M2246.75 4362.50 L2225.96 4391.90 L2257.15 4391.90 M2246.75 4362.50 L2246.75 4406.60 M2269.62 4373.00 L2269.62 4370.90 L2271.70 4366.70 L2273.78 4364.60 L2277.94 4362.50 L2286.25 4362.50 L2290.41 4364.60 L2292.49 4366.70 L2294.57 4370.90 L2294.57 4375.10 L2292.49 4379.30 L2288.33 4385.60 L2267.54 4406.60 L2296.65 4406.60 M2344.47 4362.50 L2344.47 4394.00 L2346.55 4400.30 L2350.70 4404.50 L2356.94 4406.60 L2361.10 4406.60 L2367.34 4404.50 L2371.49 4400.30 L2373.57 4394.00 L2373.57 4362.50 M2398.52 4362.50 L2398.52 4406.60 M2383.97 4362.50 L2413.07 4362.50 M2452.57 4373.00 L2450.49 4368.80 L2446.34 4364.60 L2442.18 4362.50 L2433.86 4362.50 L2429.70 4364.60 L2425.55 4368.80 L2423.47 4373.00 L2421.39 4379.30 L2421.39 4389.80 L2423.47 4396.10 L2425.55 4400.30 L2429.70 4404.50 L2433.86 4406.60 L2442.18 4406.60 L2446.34 4404.50 L2450.49 4400.30 L2452.57 4396.10" stroke="#000" stroke-width="4.8" fill="none" stroke-linecap="butt" stroke-linejoin="round" shape-rendering="crispEdges"/>
</svg>
</body></html>
